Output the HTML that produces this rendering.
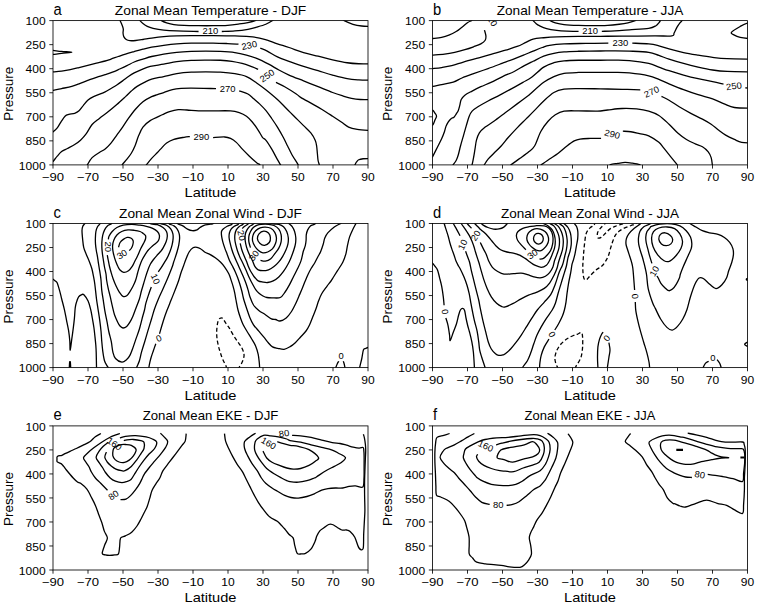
<!DOCTYPE html><html><head><meta charset="utf-8"><style>html,body{margin:0;padding:0;background:#fff;}svg{display:block;}text{font-family:"Liberation Sans",sans-serif;fill:#000;}</style></head><body>
<svg width="758" height="606" viewBox="0 0 758 606">
<rect width="758" height="606" fill="#fff"/>
<clipPath id="cpa"><rect x="53" y="20.6" width="315" height="144.3"/></clipPath>
<g clip-path="url(#cpa)" fill="none" stroke="#000" stroke-width="1.3" stroke-linejoin="round" stroke-linecap="butt">
<path d="M160.81 19.18 C160.93 19.42 160.57 20.03 161.53 20.63 C162.5 21.24 164.56 22.16 166.62 22.81 C168.67 23.46 170.97 24.12 173.88 24.55 C176.78 24.99 179.93 25.23 184.04 25.42 C188.16 25.62 193.72 25.66 198.56 25.71 C203.4 25.76 208.25 25.79 213.09 25.71 C217.93 25.64 223.25 25.57 227.61 25.28 C231.96 24.99 235.84 24.43 239.22 23.97 C242.61 23.51 245.28 23.07 247.94 22.52 C250.6 21.96 253.79 21.19 255.2 20.63 C256.6 20.07 256.17 19.42 256.36 19.18"/>
<path d="M139.45 19.18 C139.55 19.42 139.45 19.9 140.03 20.63 C140.61 21.36 141.73 22.57 142.94 23.53 C144.15 24.5 145.6 25.64 147.29 26.44 C148.99 27.24 150.37 27.72 153.1 28.33 C155.84 28.93 159.77 29.63 163.71 30.07 C167.66 30.5 170.97 30.7 176.78 30.94 C182.59 31.18 194.93 31.42 198.56 31.52"/>
<path d="M221.8 31.52 C223.98 31.42 230.51 31.3 234.87 30.94 C239.22 30.58 244.31 29.97 247.94 29.34 C251.57 28.71 253.67 28.01 256.65 27.17 C259.63 26.32 263.19 25.35 265.81 24.26 C268.42 23.17 271.01 21.48 272.34 20.63 C273.67 19.78 273.55 19.42 273.8 19.18"/>
<path d="M119.7 19.18 C119.78 19.42 119.85 19.9 120.14 20.63 C120.43 21.36 121.03 22.57 121.45 23.53 C121.86 24.5 122.29 25.47 122.61 26.44 C122.92 27.41 123.26 28.25 123.33 29.34 C123.41 30.43 122.97 31.76 123.04 32.97 C123.12 34.18 123.24 35.51 123.77 36.6 C124.3 37.69 125.22 38.83 126.24 39.51 C127.25 40.19 128.29 40.5 129.87 40.67 C131.44 40.84 133.5 40.72 135.68 40.52 C137.85 40.33 140.28 39.92 142.94 39.51 C145.6 39.1 148.19 38.54 151.65 38.06 C155.11 37.57 159.52 36.97 163.71 36.6 C167.9 36.24 172.18 36.05 176.78 35.88 C181.38 35.71 185.25 35.64 191.3 35.59 C197.35 35.54 205.83 35.54 213.09 35.59 C220.35 35.64 228.82 35.71 234.87 35.88 C240.92 36.05 245.28 36.24 249.39 36.6 C253.5 36.97 256.58 37.45 259.55 38.06 C262.53 38.66 264.28 39.27 267.26 40.23 C270.24 41.2 273.8 42.65 277.43 43.86 C281.06 45.07 284.69 46.04 289.04 47.5 C293.4 48.95 298.72 51.13 303.56 52.58 C308.4 54.03 313.25 55 318.09 56.21 C322.93 57.42 327.77 58.75 332.61 59.84 C337.45 60.93 342.77 62.09 347.13 62.74 C351.49 63.4 354.63 63.59 358.75 63.76 C362.86 63.93 369.64 63.76 371.82 63.76"/>
<path d="M342.77 19.18 C343.01 19.42 342.53 19.78 344.22 20.63 C345.92 21.48 350.03 23.37 352.94 24.26 C355.84 25.16 358.5 25.64 361.65 26 C364.8 26.37 370.12 26.37 371.82 26.44"/>
<path d="M50.73 50.25 C51.14 50.28 51.38 50.21 53.19 50.4 C55.01 50.59 58.52 51.1 61.62 51.42 C64.72 51.73 71.78 51.97 71.78 52.29 C71.78 52.6 64.72 52.94 61.62 53.3 C58.52 53.67 55.01 54.25 53.19 54.47 C51.38 54.68 51.14 54.59 50.73 54.61"/>
<path d="M50.73 72.04 C51.14 72.01 51.38 72.06 53.19 71.89 C55.01 71.72 58.76 71.41 61.62 71.02 C64.47 70.63 67.43 70.15 70.33 69.57 C73.23 68.99 76.14 68.24 79.04 67.53 C81.95 66.83 84.85 66.08 87.76 65.36 C90.66 64.63 93.56 63.9 96.47 63.18 C99.37 62.45 102.76 61.68 105.18 61 C107.6 60.32 108.81 59.86 110.99 59.11 C113.17 58.36 115.83 57.35 118.25 56.5 C120.67 55.65 122.85 54.85 125.51 54.03 C128.17 53.21 131.32 52.36 134.22 51.56 C137.13 50.76 140.03 49.96 142.94 49.24 C145.84 48.51 148.19 47.86 151.65 47.2 C155.11 46.55 159.52 45.87 163.71 45.32 C167.9 44.76 172.18 44.23 176.78 43.86 C181.38 43.5 185.25 43.26 191.3 43.14 C197.35 43.02 207.04 43.07 213.09 43.14 C219.14 43.21 223.37 43.4 227.61 43.57 C231.84 43.74 236.68 44.06 238.5 44.16"/>
<path d="M260.28 48.22 C261.44 48.71 264.4 49.67 267.26 51.13 C270.12 52.58 273.8 55.24 277.43 56.93 C281.06 58.63 284.69 59.72 289.04 61.29 C293.4 62.86 298.72 64.8 303.56 66.37 C308.4 67.95 313.25 69.28 318.09 70.73 C322.93 72.18 327.77 73.75 332.61 75.09 C337.45 76.42 342.77 77.92 347.13 78.72 C351.49 79.51 354.63 79.64 358.75 79.88 C362.86 80.12 369.64 80.12 371.82 80.17"/>
<path d="M50.73 90.48 C51.14 90.45 51.38 90.65 53.19 90.33 C55.01 90.02 58.52 89.24 61.62 88.59 C64.72 87.94 68.88 87.21 71.78 86.41 C74.69 85.61 76.38 84.79 79.04 83.8 C81.71 82.81 84.85 81.55 87.76 80.46 C90.66 79.37 93.56 78.23 96.47 77.26 C99.37 76.3 102.52 75.5 105.18 74.65 C107.84 73.8 110.02 73.13 112.44 72.18 C114.86 71.24 117.28 70.08 119.7 68.99 C122.12 67.9 124.54 66.81 126.96 65.65 C129.38 64.49 131.56 63.11 134.22 62.02 C136.89 60.93 140.03 60.03 142.94 59.11 C145.84 58.19 148.19 57.35 151.65 56.5 C155.11 55.65 159.52 54.73 163.71 54.03 C167.9 53.33 172.18 52.72 176.78 52.29 C181.38 51.85 186.46 51.61 191.3 51.42 C196.14 51.22 200.98 51.13 205.83 51.13 C210.67 51.13 215.51 51.17 220.35 51.42 C225.19 51.66 230.51 51.97 234.87 52.58 C239.22 53.18 242.85 54.08 246.49 55.05 C250.12 56.01 252.95 56.86 256.65 58.39 C260.35 59.91 265.01 62.26 268.71 64.19 C272.42 66.13 275.49 68.19 278.88 70 C282.27 71.82 284.93 73.27 289.04 75.09 C293.16 76.9 298.72 78.96 303.56 80.89 C308.4 82.83 313.25 84.77 318.09 86.7 C322.93 88.64 328.49 90.98 332.61 92.51 C336.72 94.04 339.63 94.92 342.77 95.89 C345.92 96.87 348.58 97.75 351.49 98.36 C354.39 98.96 356.81 99.33 360.2 99.52 C363.59 99.72 369.88 99.52 371.82 99.52"/>
<path d="M50.73 132.92 C51.14 132.73 52.11 132.61 53.19 131.76 C54.28 130.91 55.98 129.46 57.26 127.84 C58.54 126.22 59.56 124.01 60.89 122.03 C62.22 120.05 63.92 117.21 65.25 115.93 C66.58 114.65 67.3 114.77 68.88 114.33 C70.45 113.9 72.99 113.9 74.69 113.32 C76.38 112.74 77.59 112.18 79.04 110.85 C80.5 109.52 81.95 107.1 83.4 105.33 C84.85 103.56 86.06 101.7 87.76 100.25 C89.45 98.8 90.66 98.03 93.56 96.62 C96.47 95.21 102.28 93.15 105.18 91.79 C108.09 90.42 109.05 89.58 110.99 88.45 C112.93 87.31 114.86 86.22 116.8 84.96 C118.73 83.7 120.67 82.3 122.61 80.89 C124.54 79.49 126.48 77.87 128.42 76.54 C130.35 75.21 132.05 74.07 134.22 72.91 C136.4 71.75 138.82 70.66 141.49 69.57 C144.15 68.48 146.49 67.27 150.2 66.37 C153.9 65.48 159.28 64.97 163.71 64.19 C168.14 63.42 172.18 62.36 176.78 61.73 C181.38 61.1 186.46 60.69 191.3 60.42 C196.14 60.15 200.98 60.15 205.83 60.13 C210.67 60.1 215.99 60.08 220.35 60.27 C224.7 60.47 228.33 60.76 231.96 61.29 C235.59 61.82 238.98 62.62 242.13 63.47 C245.28 64.32 248.18 65.4 250.84 66.37 C253.5 67.34 256.89 68.79 258.1 69.28"/>
<path d="M275.97 82.35 C277.43 83.07 281.3 84.77 284.69 86.7 C288.07 88.64 293.64 92.19 296.3 93.96 C298.97 95.74 298 95.69 300.66 97.34 C303.32 99 308.65 101.82 312.28 103.88 C315.91 105.94 319.05 107.63 322.44 109.69 C325.83 111.74 329.46 114.16 332.61 116.22 C335.75 118.28 338.66 120.21 341.32 122.03 C343.98 123.84 345.92 125.9 348.58 127.11 C351.24 128.32 353.42 128.69 357.29 129.29 C361.17 129.9 369.39 130.5 371.82 130.74"/>
<path d="M51.45 162.69 C51.74 162.45 52.23 162.33 53.19 161.24 C54.16 160.15 55.86 157.78 57.26 156.16 C58.66 154.53 59.92 152.79 61.62 151.51 C63.31 150.23 65.25 149.62 67.43 148.46 C69.6 147.3 72.51 145.92 74.69 144.54 C76.86 143.16 78.56 142 80.5 140.18 C82.43 138.37 84.37 136.26 86.3 133.65 C88.24 131.03 89.93 127.04 92.11 124.5 C94.29 121.96 96.71 120.5 99.37 118.4 C102.04 116.29 105.18 114.16 108.09 111.86 C110.99 109.57 113.89 107.15 116.8 104.6 C119.7 102.06 123.09 98.87 125.51 96.62 C127.93 94.36 129.38 92.76 131.32 91.06 C133.26 89.36 134.95 87.86 137.13 86.41 C139.31 84.96 141.97 83.56 144.39 82.35 C146.81 81.14 148.43 80.12 151.65 79.15 C154.87 78.18 159.52 77.46 163.71 76.54 C167.9 75.62 172.18 74.36 176.78 73.63 C181.38 72.91 186.46 72.47 191.3 72.18 C196.14 71.89 200.98 71.89 205.83 71.89 C210.67 71.89 215.51 71.89 220.35 72.18 C225.19 72.47 230.51 72.91 234.87 73.63 C239.22 74.36 242.85 74.99 246.49 76.54 C250.12 78.09 253.43 80.72 256.65 82.93 C259.87 85.13 262.35 86.99 265.81 89.75 C269.27 92.52 274.04 96.44 277.43 99.52 C280.81 102.6 283.23 105.33 286.14 108.23 C289.04 111.14 291.95 114.04 294.85 116.95 C297.76 119.85 300.9 123 303.56 125.66 C306.23 128.32 308.89 130.5 310.83 132.92 C312.76 135.34 314.21 138 315.18 140.18 C316.15 142.36 316.27 143.81 316.63 145.99 C317 148.17 317.12 150.83 317.36 153.25 C317.6 155.67 317.77 158.62 318.09 160.51 C318.4 162.4 319.01 163.49 319.25 164.58 C319.49 165.67 319.49 166.63 319.54 167.05"/>
<path d="M86.59 167.05 C86.74 166.63 86.55 166.15 87.47 164.58 C88.39 163 90.13 159.62 92.11 157.61 C94.1 155.6 97.19 153.98 99.37 152.52 C101.55 151.07 103.25 150.47 105.18 148.89 C107.12 147.32 109.05 145.39 110.99 143.09 C112.93 140.79 114.86 137.76 116.8 135.1 C118.73 132.44 120.67 129.9 122.61 127.11 C124.54 124.33 126.24 121.42 128.42 118.4 C130.59 115.37 133.26 111.74 135.68 108.96 C138.1 106.18 140.28 103.76 142.94 101.7 C145.6 99.64 149.23 97.79 151.65 96.62 C154.07 95.45 155.45 95.37 157.46 94.69 C159.47 94.01 161.22 93.36 163.71 92.51 C166.21 91.66 169.52 90.28 172.43 89.61 C175.33 88.93 177.99 88.69 181.14 88.45 C184.28 88.2 185.5 88.13 191.3 88.16 C197.11 88.18 211.88 88.52 215.99 88.59"/>
<path d="M239.22 90.77 C240.68 91.3 245.52 92.63 247.94 93.96 C250.36 95.3 251.81 97.14 253.75 98.8 C255.68 100.45 257.54 101.94 259.55 103.88 C261.56 105.81 263.8 107.99 265.81 110.41 C267.82 112.83 269.68 115.62 271.62 118.4 C273.55 121.18 275.49 123.97 277.43 127.11 C279.36 130.26 281.54 134.13 283.23 137.28 C284.93 140.42 286.14 143.09 287.59 145.99 C289.04 148.89 290.2 151.61 291.95 154.7 C293.69 157.8 296.88 162.52 298.05 164.58 C299.21 166.63 298.77 166.63 298.92 167.05"/>
<path d="M121.45 167.05 C121.59 166.63 121.4 165.91 122.32 164.58 C123.24 163.25 125.46 160.95 126.96 159.06 C128.46 157.17 129.99 155.43 131.32 153.25 C132.65 151.07 133.74 148.89 134.95 145.99 C136.16 143.09 137.25 138.97 138.58 135.83 C139.91 132.68 141 129.65 142.94 127.11 C144.87 124.57 146.98 122.63 150.2 120.58 C153.42 118.52 159.04 116.27 162.26 114.77 C165.48 113.27 166.86 112.42 169.52 111.57 C172.18 110.73 175.33 109.95 178.23 109.69 C181.14 109.42 183.56 109.78 186.95 109.98 C190.34 110.17 194.21 110.7 198.56 110.85 C202.92 110.99 207.76 110.85 213.09 110.85 C218.41 110.85 226.16 110.56 230.51 110.85 C234.87 111.14 236.56 111.7 239.22 112.59 C241.89 113.49 244.31 114.65 246.49 116.22 C248.66 117.79 250.36 119.73 252.29 122.03 C254.23 124.33 256.41 127.48 258.1 130.02 C259.8 132.56 261.17 135.58 262.46 137.28 C263.74 138.97 264.28 138.25 265.81 140.18 C267.33 142.12 269.92 146.11 271.62 148.89 C273.31 151.68 274.52 154.27 275.97 156.88 C277.43 159.5 279.46 162.88 280.33 164.58 C281.2 166.27 281.06 166.63 281.2 167.05"/>
<path d="M144.68 167.05 C144.99 166.63 145.41 166.03 146.57 164.58 C147.73 163.13 149.83 160.34 151.65 158.33 C153.47 156.32 155.93 154.1 157.46 152.52 C158.99 150.95 159.28 150.47 160.81 148.89 C162.33 147.32 164.44 144.66 166.62 143.09 C168.8 141.51 170.97 140.42 173.88 139.46 C176.78 138.49 181.38 137.76 184.04 137.28 C186.71 136.79 188.88 136.67 189.85 136.55"/>
<path d="M213.09 137.57 C215.02 137.47 221.8 136.84 224.7 136.99 C227.61 137.13 228.58 137.54 230.51 138.44 C232.45 139.33 234.38 140.62 236.32 142.36 C238.26 144.1 239.95 146.6 242.13 148.89 C244.31 151.19 246.97 153.86 249.39 156.16 C251.81 158.45 254.96 161.29 256.65 162.69 C258.34 164.09 258.78 163.85 259.55 164.58 C260.33 165.3 261.01 166.63 261.3 167.05"/>
<path d="M354.1 167.05 C354.27 166.63 354.7 165.42 355.12 164.58 C355.53 163.73 355.96 162.76 356.57 161.96 C357.17 161.17 357.66 160.32 358.75 159.79 C359.83 159.25 360.92 158.99 363.1 158.77 C365.28 158.55 370.36 158.53 371.82 158.48"/>
<text stroke="none" x="202.52" y="33.98" font-size="9" textLength="15.75" lengthAdjust="spacingAndGlyphs" transform="rotate(0 210.4 31.1)">210</text>
<text stroke="none" x="241.42" y="48.48" font-size="9" textLength="15.75" lengthAdjust="spacingAndGlyphs" transform="rotate(-12 249.3 45.6)">230</text>
<text stroke="none" x="259.42" y="78.68" font-size="9" textLength="15.75" lengthAdjust="spacingAndGlyphs" transform="rotate(-35 267.3 75.8)">250</text>
<text stroke="none" x="219.72" y="91.78" font-size="9" textLength="15.75" lengthAdjust="spacingAndGlyphs" transform="rotate(0 227.6 88.9)">270</text>
<text stroke="none" x="193.52" y="140.18" font-size="9" textLength="15.75" lengthAdjust="spacingAndGlyphs" transform="rotate(0 201.4 137.3)">290</text>
</g>
<rect x="53" y="20.6" width="315" height="144.3" fill="none" stroke="#000" stroke-width="0.84"/>
<path d="M53 164.9V168.58M88 164.9V168.58M123 164.9V168.58M158 164.9V168.58M193 164.9V168.58M228 164.9V168.58M263 164.9V168.58M298 164.9V168.58M333 164.9V168.58M368 164.9V168.58M53 20.6H49.32M53 44.65H49.32M53 68.7H49.32M53 92.75H49.32M53 116.8H49.32M53 140.85H49.32M53 164.9H49.32" stroke="#000" stroke-width="0.84" fill="none"/>
<clipPath id="cpb"><rect x="432.5" y="20.6" width="315" height="144.3"/></clipPath>
<g clip-path="url(#cpb)" fill="none" stroke="#000" stroke-width="1.3" stroke-linejoin="round" stroke-linecap="butt">
<path d="M430.73 38.64 C431.09 38.61 431.09 38.71 432.9 38.49 C434.72 38.27 438.95 37.89 441.62 37.33 C444.28 36.77 446.46 36.12 448.88 35.15 C451.3 34.18 453.96 32.85 456.14 31.52 C458.32 30.19 460.01 28.67 461.95 27.17 C463.88 25.66 466.18 23.61 467.76 22.52 C469.33 21.43 470.61 21.19 471.39 20.63 C472.16 20.07 472.23 19.42 472.4 19.18"/>
<path d="M484.46 30.07 C484.7 31.04 485.79 34.18 485.91 35.88 C486.03 37.57 486.03 38.9 485.18 40.23 C484.33 41.57 482.76 42.78 480.83 43.86 C478.89 44.95 476.23 45.8 473.56 46.77 C470.9 47.74 468 48.75 464.85 49.67 C461.71 50.59 458.07 51.56 454.69 52.29 C451.3 53.01 448.15 53.57 444.52 54.03 C440.89 54.49 435.2 54.85 432.9 55.05 C430.61 55.24 431.09 55.17 430.73 55.19"/>
<path d="M531.65 19.18 C531.89 19.42 532.38 19.9 533.1 20.63 C533.83 21.36 534.96 22.69 536.01 23.53 C537.05 24.38 537.59 24.87 539.36 25.71 C541.12 26.56 543.71 27.84 546.62 28.62 C549.52 29.39 553.39 29.95 556.78 30.36 C560.17 30.77 563.32 30.92 566.95 31.09 C570.58 31.26 576.63 31.33 578.56 31.38"/>
<path d="M601.8 31.38 C603.98 31.28 610.27 31.06 614.87 30.8 C619.47 30.53 623.75 30.19 629.39 29.78 C635.03 29.37 644.28 29 648.71 28.33 C653.14 27.65 654.28 26.63 655.97 25.71 C657.67 24.79 658.15 23.66 658.88 22.81 C659.6 21.96 660.02 21.24 660.33 20.63 C660.64 20.03 660.69 19.42 660.77 19.18"/>
<path d="M549.52 19.18 C549.64 19.42 549.28 20.03 550.25 20.63 C551.22 21.24 553.03 22.16 555.33 22.81 C557.63 23.46 560.17 24.12 564.04 24.55 C567.92 24.99 573.72 25.23 578.56 25.42 C583.4 25.62 588.25 25.71 593.09 25.71 C597.93 25.71 603.25 25.66 607.61 25.42 C611.96 25.18 615.84 24.7 619.22 24.26 C622.61 23.83 625.28 23.41 627.94 22.81 C630.6 22.2 633.84 21.24 635.2 20.63 C636.55 20.03 635.92 19.42 636.07 19.18"/>
<path d="M430.73 68.7 C431.09 68.67 431.09 68.74 432.9 68.55 C434.72 68.36 438.47 68.02 441.62 67.53 C444.76 67.05 448.15 66.57 451.78 65.65 C455.41 64.73 459.28 63.23 463.4 62.02 C467.51 60.81 471.87 59.64 476.47 58.39 C481.07 57.13 486.15 55.84 490.99 54.47 C495.83 53.09 501.16 51.44 505.51 50.11 C509.87 48.78 513.74 47.76 517.13 46.48 C520.52 45.2 523.18 43.65 525.84 42.41 C528.5 41.18 530.12 39.85 533.1 39.07 C536.08 38.3 539.77 38.13 543.71 37.77 C547.66 37.4 550.97 37.11 556.78 36.89 C562.59 36.68 571.3 36.56 578.56 36.46 C585.83 36.36 593.09 36.36 600.35 36.31 C607.61 36.27 613.1 36.24 622.13 36.17 C631.16 36.1 646.22 35.93 654.52 35.88 C662.82 35.83 668.68 36.36 671.95 35.88 C675.21 35.39 673.28 34.43 674.13 32.97 C674.97 31.52 676.06 28.86 677.03 27.17 C678 25.47 679.09 23.9 679.93 22.81 C680.78 21.72 681.63 21.24 682.11 20.63 C682.6 20.03 682.72 19.42 682.84 19.18"/>
<path d="M751.82 22.52 C751.21 22.57 750.12 22.16 748.18 22.81 C746.25 23.46 742.98 24.87 740.2 26.44 C737.41 28.01 732.45 30.8 731.49 32.25 C730.52 33.7 732.94 34.3 734.39 35.15 C735.84 36 737.9 36.77 740.2 37.33 C742.5 37.89 746.25 38.3 748.18 38.49 C750.12 38.69 751.21 38.49 751.82 38.49"/>
<path d="M430.73 86.56 C431.09 86.53 431.09 86.75 432.9 86.41 C434.72 86.07 438.23 85.25 441.62 84.52 C445.01 83.8 449.85 83.15 453.23 82.06 C456.62 80.97 458.56 79.39 461.95 77.99 C465.34 76.59 469.21 75.21 473.56 73.63 C477.92 72.06 483.25 70.29 488.09 68.55 C492.93 66.81 498.25 64.8 502.61 63.18 C506.96 61.56 510.59 60.23 514.22 58.82 C517.85 57.42 521.24 56.04 524.39 54.76 C527.54 53.47 530.12 52.34 533.1 51.13 C536.08 49.92 539.52 48.46 542.26 47.5 C545 46.53 545.89 45.92 549.52 45.32 C553.15 44.71 557.99 44.18 564.04 43.86 C570.09 43.55 578.44 43.55 585.83 43.43 C593.21 43.31 604.58 43.19 608.33 43.14"/>
<path d="M632.29 43.14 C635.03 43.26 644.52 43.5 648.71 43.86 C652.9 44.23 654.04 44.47 657.43 45.32 C660.81 46.16 664.69 47.74 669.04 48.95 C673.4 50.16 678.72 51.54 683.56 52.58 C688.4 53.62 693.25 54.39 698.09 55.19 C702.93 55.99 707.77 56.79 712.61 57.37 C717.45 57.95 720.59 58.39 727.13 58.68 C733.66 58.97 747.7 59.04 751.82 59.11"/>
<path d="M432.18 157.61 C432.3 157.37 432.06 157.85 432.9 156.16 C433.75 154.46 435.81 150.35 437.26 147.44 C438.71 144.54 440.41 141.39 441.62 138.73 C442.83 136.07 443.8 133.53 444.52 131.47 C445.25 129.41 445.37 127.96 445.97 126.39 C446.58 124.81 447.3 123.31 448.15 122.03 C449 120.75 450.09 119.49 451.06 118.69 C452.02 117.89 453.11 118.01 453.96 117.24 C454.81 116.46 455.41 115.18 456.14 114.04 C456.86 112.91 457.71 111.86 458.32 110.41 C458.92 108.96 459.28 107.15 459.77 105.33 C460.25 103.51 460.37 101.22 461.22 99.52 C462.07 97.83 463.04 96.58 464.85 95.17 C466.67 93.75 469.45 92.47 472.11 91.06 C474.77 89.65 477.68 88.16 480.83 86.7 C483.97 85.25 487.36 84.04 490.99 82.35 C494.62 80.65 498.73 78.35 502.61 76.54 C506.48 74.72 510.59 73.27 514.22 71.46 C517.85 69.64 521.24 67.34 524.39 65.65 C527.54 63.95 529.88 62.86 533.1 61.29 C536.32 59.72 540.25 57.54 543.71 56.21 C547.18 54.88 550.49 54.03 553.88 53.3 C557.27 52.58 559.93 52.19 564.04 51.85 C568.16 51.51 572.51 51.42 578.56 51.27 C584.61 51.13 594.3 51.05 600.35 50.98 C606.4 50.91 610.03 50.81 614.87 50.83 C619.71 50.86 623.75 50.88 629.39 51.13 C635.03 51.37 643.8 51.56 648.71 52.29 C653.63 53.01 655.49 54.34 658.88 55.48 C662.27 56.62 664.93 57.78 669.04 59.11 C673.16 60.44 678.72 62.14 683.56 63.47 C688.4 64.8 693.25 66.01 698.09 67.1 C702.93 68.19 707.77 69.28 712.61 70 C717.45 70.73 720.59 71.14 727.13 71.46 C733.66 71.77 747.7 71.82 751.82 71.89"/>
<path d="M452.51 166.32 C452.63 166.03 452.63 165.55 453.23 164.58 C453.84 163.61 455.29 162.16 456.14 160.51 C456.99 158.87 457.59 157.12 458.32 154.7 C459.04 152.28 459.65 149.14 460.5 145.99 C461.34 142.84 462.43 139.21 463.4 135.83 C464.37 132.44 465.34 128.93 466.3 125.66 C467.27 122.39 468.24 118.64 469.21 116.22 C470.18 113.8 470.66 112.71 472.11 111.14 C473.56 109.57 475.26 108.48 477.92 106.78 C480.58 105.09 484.46 102.91 488.09 100.97 C491.72 99.04 495.83 97.18 499.7 95.17 C503.58 93.15 507.45 91.02 511.32 88.88 C515.19 86.74 519.55 84.28 522.94 82.35 C526.33 80.41 528.19 79.81 531.65 77.26 C535.11 74.72 540.01 69.52 543.71 67.1 C547.42 64.68 550.49 63.78 553.88 62.74 C557.27 61.7 559.93 61.27 564.04 60.85 C568.16 60.44 572.51 60.37 578.56 60.27 C584.61 60.18 594.3 60.3 600.35 60.27 C606.4 60.25 610.03 60.08 614.87 60.13 C619.71 60.18 623.75 60.01 629.39 60.56 C635.03 61.12 643.8 62.38 648.71 63.47 C653.63 64.56 655.49 65.89 658.88 67.1 C662.27 68.31 664.93 69.4 669.04 70.73 C673.16 72.06 678.72 73.75 683.56 75.09 C688.4 76.42 693.25 77.63 698.09 78.72 C702.93 79.81 708.37 80.72 712.61 81.62 C716.84 82.52 721.68 83.68 723.5 84.09"/>
<path d="M745.28 87.86 L751.82 88.16"/>
<path d="M471.39 166.32 C471.51 166.03 471.75 166.03 472.11 164.58 C472.48 163.13 473.08 160.22 473.56 157.61 C474.05 154.99 474.53 151.8 475.02 148.89 C475.5 145.99 475.74 142.84 476.47 140.18 C477.19 137.52 477.92 135.1 479.37 132.92 C480.83 130.74 482.76 129.05 485.18 127.11 C487.6 125.18 490.51 123.72 493.89 121.3 C497.28 118.88 501.64 115.5 505.51 112.59 C509.38 109.69 513.26 106.78 517.13 103.88 C521 100.97 526.57 96.82 528.75 95.17 C530.92 93.51 527.7 96.1 530.2 93.96 C532.69 91.83 539.77 85.25 543.71 82.35 C547.66 79.44 550.49 78.04 553.88 76.54 C557.27 75.04 559.93 74.02 564.04 73.34 C568.16 72.67 572.51 72.64 578.56 72.47 C584.61 72.3 594.3 72.35 600.35 72.33 C606.4 72.3 610.03 72.23 614.87 72.33 C619.71 72.42 623.75 72.33 629.39 72.91 C635.03 73.49 643.8 74.72 648.71 75.81 C653.63 76.9 655.49 78.11 658.88 79.44 C662.27 80.77 664.93 82.1 669.04 83.8 C673.16 85.49 678.72 87.79 683.56 89.61 C688.4 91.42 693.25 93.16 698.09 94.69 C702.93 96.22 708.25 97.26 712.61 98.8 C716.96 100.33 720.59 102.43 724.22 103.88 C727.85 105.33 729.79 106.78 734.39 107.51 C738.99 108.23 748.91 108.11 751.82 108.23"/>
<path d="M483.73 166.32 C483.85 166.03 483.73 165.79 484.46 164.58 C485.18 163.37 486.51 160.95 488.09 159.06 C489.66 157.17 491.72 155.43 493.89 153.25 C496.07 151.07 498.73 148.65 501.16 145.99 C503.58 143.33 505.75 140.3 508.42 137.28 C511.08 134.25 514.22 130.86 517.13 127.84 C520.03 124.81 522.94 122.03 525.84 119.13 C528.75 116.22 531.58 113.44 534.55 110.41 C537.53 107.39 540.49 103.96 543.71 100.97 C546.93 97.99 550.49 94.48 553.88 92.51 C557.27 90.54 559.93 89.83 564.04 89.17 C568.16 88.52 572.51 88.64 578.56 88.59 C584.61 88.54 593.09 88.76 600.35 88.88 C607.61 89 615.47 89.15 622.13 89.32 C628.78 89.49 637.26 89.8 640.28 89.9"/>
<path d="M661.49 96.33 C662.75 96.98 666.09 98.5 669.04 100.25 C672 101.99 675.58 104.6 679.21 106.78 C682.84 108.96 686.95 111.26 690.83 113.32 C694.7 115.37 699.05 117.31 702.44 119.13 C705.83 120.94 708.49 122.39 711.16 124.21 C713.82 126.02 716 128.2 718.42 130.02 C720.84 131.83 723.01 133.53 725.68 135.1 C728.34 136.67 731.73 138.25 734.39 139.46 C737.05 140.67 738.75 141.75 741.65 142.36 C744.55 142.96 750.12 142.96 751.82 143.09"/>
<path d="M510.59 166.32 C510.72 166.03 509.75 165.91 511.32 164.58 C512.89 163.25 517.13 160.46 520.03 158.33 C522.94 156.2 526.33 153.86 528.75 151.8 C531.17 149.74 532.54 149.38 534.55 145.99 C536.56 142.6 538.56 135.58 540.81 131.47 C543.06 127.35 545.65 124.09 548.07 121.3 C550.49 118.52 552.67 116.46 555.33 114.77 C557.99 113.07 560.17 111.79 564.04 111.14 C567.92 110.49 573 110.85 578.56 110.85 C584.13 110.85 592.6 111.28 597.44 111.14 C602.28 110.99 603.49 110.41 607.61 109.98 C611.72 109.54 617.29 108.69 622.13 108.52 C626.97 108.36 632.22 108.52 636.65 108.96 C641.08 109.4 645.01 110.05 648.71 111.14 C652.42 112.23 655.49 113.32 658.88 115.5 C662.27 117.67 665.9 121.3 669.04 124.21 C672.19 127.11 674.85 130.38 677.76 132.92 C680.66 135.46 683.56 137.64 686.47 139.46 C689.37 141.27 692.52 142.6 695.18 143.81 C697.84 145.02 700.26 145.39 702.44 146.72 C704.62 148.05 706.8 149.98 708.25 151.8 C709.7 153.61 710.48 155.48 711.16 157.61 C711.83 159.74 712.07 163.13 712.32 164.58 C712.56 166.03 712.56 166.03 712.61 166.32"/>
<path d="M540.81 166.32 C540.93 166.03 540.08 165.79 541.53 164.58 C542.99 163.37 546.74 160.95 549.52 159.06 C552.3 157.17 555.33 155.43 558.23 153.25 C561.14 151.07 564.28 148.05 566.95 145.99 C569.61 143.93 572.03 142.07 574.21 140.91 C576.39 139.75 577.35 139.43 580.02 139.02 C582.68 138.61 586.67 138.56 590.18 138.44 C593.69 138.32 599.26 138.32 601.07 138.29"/>
<path d="M622.85 131.18 C624.19 131.28 628.06 131.35 630.84 131.76 C633.62 132.17 636.58 132.97 639.55 133.65 C642.53 134.32 645.49 134.37 648.71 135.83 C651.93 137.28 656.46 140.42 658.88 142.36 C661.3 144.3 661.54 145.39 663.23 147.44 C664.93 149.5 666.74 151.85 669.04 154.7 C671.34 157.56 675.58 162.64 677.03 164.58 C678.48 166.51 677.63 166.03 677.76 166.32"/>
<path d="M609.79 166.32 C609.91 166.03 609.18 165.06 610.51 164.58 C611.84 164.09 615.35 163.78 617.77 163.42 C620.19 163.05 622.61 162.45 625.03 162.4 C627.45 162.35 629.87 162.76 632.29 163.13 C634.71 163.49 638.22 164.05 639.55 164.58 C640.89 165.11 640.16 166.03 640.28 166.32"/>
<path d="M430.73 110.41 C431.09 110.41 432.18 109.93 432.9 110.41 C433.63 110.9 434.48 112.35 435.08 113.32 C435.69 114.28 436.53 115.13 436.53 116.22 C436.53 117.31 435.69 118.4 435.08 119.85 C434.48 121.3 433.63 124.04 432.9 124.93 C432.18 125.83 431.09 125.18 430.73 125.22"/>
<text stroke="none" x="482.72" y="21.98" font-size="9" textLength="15.75" lengthAdjust="spacingAndGlyphs" transform="rotate(55 490.6 19.1)">210</text>
<text stroke="none" x="582.22" y="33.68" font-size="9" textLength="15.75" lengthAdjust="spacingAndGlyphs" transform="rotate(0 590.1 30.8)">210</text>
<text stroke="none" x="612.42" y="45.68" font-size="9" textLength="15.75" lengthAdjust="spacingAndGlyphs" transform="rotate(0 620.3 42.8)">230</text>
<text stroke="none" x="726.12" y="89.28" font-size="9" textLength="15.75" lengthAdjust="spacingAndGlyphs" transform="rotate(-8 734 86.4)">250</text>
<text stroke="none" x="643.72" y="94.98" font-size="9" textLength="15.75" lengthAdjust="spacingAndGlyphs" transform="rotate(-25 651.6 92.1)">270</text>
<text stroke="none" x="604.32" y="137.28" font-size="9" textLength="15.75" lengthAdjust="spacingAndGlyphs" transform="rotate(15 612.2 134.4)">290</text>
</g>
<rect x="432.5" y="20.6" width="315" height="144.3" fill="none" stroke="#000" stroke-width="0.84"/>
<path d="M432.5 164.9V168.58M467.5 164.9V168.58M502.5 164.9V168.58M537.5 164.9V168.58M572.5 164.9V168.58M607.5 164.9V168.58M642.5 164.9V168.58M677.5 164.9V168.58M712.5 164.9V168.58M747.5 164.9V168.58M432.5 20.6H428.82M432.5 44.65H428.82M432.5 68.7H428.82M432.5 92.75H428.82M432.5 116.8H428.82M432.5 140.85H428.82M432.5 164.9H428.82" stroke="#000" stroke-width="0.84" fill="none"/>
<clipPath id="cpc"><rect x="53" y="223.5" width="315" height="144.1"/></clipPath>
<g clip-path="url(#cpc)" fill="none" stroke="#000" stroke-width="1.3" stroke-linejoin="round" stroke-linecap="butt">
<path d="M50 279 C50.45 279.02 51.88 278.82 52.7 279.1 C53.52 279.38 54.18 280.13 54.9 280.7 C55.62 281.27 56.22 280.85 57 282.5 C57.78 284.15 58.82 287.85 59.6 290.6 C60.38 293.35 60.9 295.83 61.7 299 C62.5 302.17 63.6 306.08 64.4 309.6 C65.2 313.12 65.8 316.58 66.5 320.1 C67.2 323.62 68.05 327.22 68.6 330.7 C69.15 334.18 69.53 337.77 69.8 341 C70.07 344.23 69.88 350.33 70.2 350.1 C70.52 349.87 71.18 343.3 71.7 339.6 C72.22 335.9 72.85 331.43 73.3 327.9 C73.75 324.37 74.08 321.72 74.4 318.4 C74.72 315.08 74.88 310.6 75.2 308 C75.52 305.4 75.73 304.65 76.3 302.8 C76.87 300.95 77.68 298.27 78.6 296.9 C79.52 295.53 80.92 294.95 81.8 294.6 C82.68 294.25 82.85 293.72 83.9 294.8 C84.95 295.88 86.97 298.63 88.1 301.1 C89.23 303.57 90 306.78 90.7 309.6 C91.4 312.42 91.77 315.02 92.3 318 C92.83 320.98 93.45 324.33 93.9 327.5 C94.35 330.67 94.68 334.08 95 337 C95.32 339.92 95.6 342.47 95.8 345 C96 347.53 96.08 348.48 96.2 352.2 C96.32 355.92 96.43 364.33 96.5 367.3 C96.57 370.27 96.58 369.55 96.6 370"/>
<path d="M69.2 370 C69.27 368.75 69.47 363.83 69.6 362.5 C69.73 361.17 69.87 362 70 362 C70.13 362 70.27 361.17 70.4 362.5 C70.53 363.83 70.73 368.75 70.8 370"/>
<path d="M85.5 221 C85.4 221.4 85.35 222.52 84.9 223.4 C84.45 224.28 83.28 225.1 82.8 226.3 C82.32 227.5 82.03 228.48 82 230.6 C81.97 232.72 82.32 236.2 82.6 239 C82.88 241.8 83.13 244.93 83.7 247.4 C84.27 249.87 85.08 251.5 86 253.8 C86.92 256.1 88.23 258.75 89.2 261.2 C90.17 263.65 91.1 266.05 91.8 268.5 C92.5 270.95 92.9 273.32 93.4 275.9 C93.9 278.48 94.28 280.15 94.8 284 C95.32 287.85 95.95 294.73 96.5 299 C97.05 303.27 97.57 306.08 98.1 309.6 C98.63 313.12 99.22 316.53 99.7 320.1 C100.18 323.67 100.65 327.4 101 331 C101.35 334.6 101.48 338.17 101.8 341.7 C102.12 345.23 102.45 349.03 102.9 352.2 C103.35 355.37 103.8 358.42 104.5 360.7 C105.2 362.98 106.48 364.8 107.1 365.9 C107.72 367 107.88 366.78 108.2 367.3 C108.52 367.82 108.87 368.72 109 369"/>
<path d="M101.5 221 C101.3 221.42 100.97 222.55 100.3 223.5 C99.63 224.45 98.23 225.37 97.5 226.7 C96.77 228.03 96.25 229.65 95.9 231.5 C95.55 233.35 95.47 235.7 95.4 237.8 C95.33 239.9 95.35 241.98 95.5 244.1 C95.65 246.22 95.97 248.38 96.3 250.5 C96.63 252.62 97.17 254.83 97.5 256.8 C97.83 258.77 98.02 260.43 98.3 262.3 C98.58 264.17 98.88 266.05 99.2 268 C99.52 269.95 99.9 272 100.2 274 C100.5 276 100.73 277.23 101 280 C101.27 282.77 101.4 287.08 101.8 290.6 C102.2 294.12 102.87 297.58 103.4 301.1 C103.93 304.62 104.38 308.18 105 311.7 C105.62 315.22 106.45 318.82 107.1 322.2 C107.75 325.58 108.2 328.75 108.9 332 C109.6 335.25 110.63 338.33 111.3 341.7 C111.97 345.07 112.2 349.4 112.9 352.2 C113.6 355 114 356.83 115.5 358.5 C117 360.17 120.03 362.02 121.9 362.2 C123.77 362.38 125.37 360.73 126.7 359.6 C128.03 358.47 128.93 357.17 129.9 355.4 C130.87 353.63 131.53 351.63 132.5 349 C133.47 346.37 134.55 342.93 135.7 339.6 C136.85 336.27 138.22 332.93 139.4 329 C140.58 325.07 141.95 319.17 142.8 316 C143.65 312.83 143.98 312.13 144.5 310 C145.02 307.87 145.17 305.92 145.9 303.2 C146.63 300.48 148 296.4 148.9 293.7 C149.8 291 150.9 288.12 151.3 287"/>
<path d="M158.3 271.8 C158.82 271.07 160.37 268.98 161.4 267.4 C162.43 265.82 163.52 263.93 164.5 262.3 C165.48 260.67 166.37 259.43 167.3 257.6 C168.23 255.77 169.3 253.42 170.1 251.3 C170.9 249.18 171.6 247.02 172.1 244.9 C172.6 242.78 172.97 240.45 173.1 238.6 C173.23 236.75 173.27 235.38 172.9 233.8 C172.53 232.22 171.9 230.48 170.9 229.1 C169.9 227.72 168.48 226.37 166.9 225.5 C165.32 224.63 162.88 224.48 161.4 223.9 C159.92 223.32 158.57 222.32 158 222"/>
<path d="M112 221 C111.9 221.45 112.17 222.88 111.4 223.7 C110.63 224.52 108.53 224.87 107.4 225.9 C106.27 226.93 105.38 228.32 104.6 229.9 C103.82 231.48 103.15 233.42 102.7 235.4 C102.25 237.38 102.03 239.68 101.9 241.8 C101.77 243.92 101.8 246 101.9 248.1 C102 250.2 102.23 252.28 102.5 254.4 C102.77 256.52 103.17 258.7 103.5 260.8 C103.83 262.9 104.08 264.8 104.5 267 C104.92 269.2 105.65 271.83 106 274 C106.35 276.17 106.23 277.6 106.6 280 C106.97 282.4 107.58 285.58 108.2 288.4 C108.82 291.22 109.6 293.9 110.3 296.9 C111 299.9 111.7 303.42 112.4 306.4 C113.1 309.38 113.62 312.17 114.5 314.8 C115.38 317.43 116.78 320.33 117.7 322.2 C118.62 324.07 119.12 325.03 120 326 C120.88 326.97 121.88 327.93 123 328 C124.12 328.07 125.55 327.37 126.7 326.4 C127.85 325.43 128.85 323.95 129.9 322.2 C130.95 320.45 131.95 318.37 133 315.9 C134.05 313.43 135.13 310.22 136.2 307.4 C137.27 304.58 138.53 301.73 139.4 299 C140.27 296.27 140.72 293.5 141.4 291 C142.08 288.5 142.8 286.35 143.5 284 C144.2 281.65 144.85 279.27 145.6 276.9 C146.35 274.53 147.22 271.9 148 269.8 C148.78 267.7 149.38 266.02 150.3 264.3 C151.22 262.58 152.3 261.08 153.5 259.5 C154.7 257.92 156.25 256.22 157.5 254.8 C158.75 253.38 160.08 252.12 161 251 C161.92 249.88 162.15 249.63 163 248.1 C163.85 246.57 165.38 243.78 166.1 241.8 C166.82 239.82 167.23 237.92 167.3 236.2 C167.37 234.48 167.22 232.95 166.5 231.5 C165.78 230.05 164.52 228.63 163 227.5 C161.48 226.37 159.38 225.3 157.4 224.7 C155.42 224.1 152.67 224.35 151.1 223.9 C149.53 223.45 148.52 222.32 148 222"/>
<path d="M107.3 255.2 C107.45 256 107.85 258.2 108.2 260 C108.55 261.8 108.93 264 109.4 266 C109.87 268 110.37 269.83 111 272 C111.63 274.17 112.33 276.62 113.2 279 C114.07 281.38 115.18 284.12 116.2 286.3 C117.22 288.48 118.17 290.42 119.3 292.1 C120.43 293.78 121.77 295.78 123 296.4 C124.23 297.02 125.55 296.6 126.7 295.8 C127.85 295 128.85 293.18 129.9 291.6 C130.95 290.02 132.03 288.23 133 286.3 C133.97 284.37 134.93 282.22 135.7 280 C136.47 277.78 136.97 275.25 137.6 273 C138.23 270.75 138.8 268.58 139.5 266.5 C140.2 264.42 140.92 262.38 141.8 260.5 C142.68 258.62 143.78 256.87 144.8 255.2 C145.82 253.53 146.72 251.95 147.9 250.5 C149.08 249.05 150.58 247.7 151.9 246.5 C153.22 245.3 154.68 244.35 155.8 243.3 C156.92 242.25 158 241.52 158.6 240.2 C159.2 238.88 159.6 236.85 159.4 235.4 C159.2 233.95 158.52 232.68 157.4 231.5 C156.28 230.32 154.55 229.17 152.7 228.3 C150.85 227.43 148.42 226.82 146.3 226.3 C144.18 225.78 142.38 225.52 140 225.2 C137.62 224.88 134.78 224.42 132 224.4 C129.22 224.38 125.82 224.58 123.3 225.1 C120.78 225.62 118.75 226.43 116.9 227.5 C115.05 228.57 113.52 230.05 112.2 231.5 C110.88 232.95 109.63 234.88 109 236.2 C108.37 237.52 108.5 238.87 108.4 239.4"/>
<path d="M128 229.9 C130.1 229.7 132.3 230.03 134.3 230.3 C136.3 230.57 138.52 230.98 140 231.5 C141.48 232.02 142.28 232.72 143.2 233.4 C144.12 234.08 145.12 234.67 145.5 235.6 C145.88 236.53 145.82 237.72 145.5 239 C145.18 240.28 144.38 241.72 143.6 243.3 C142.82 244.88 141.82 246.38 140.8 248.5 C139.78 250.62 138.52 253.83 137.5 256 C136.48 258.17 135.58 259.77 134.7 261.5 C133.82 263.23 133.23 264.87 132.2 266.4 C131.17 267.93 129.92 269.72 128.5 270.7 C127.08 271.68 125.12 272.42 123.7 272.3 C122.28 272.18 121 271.05 120 270 C119 268.95 118.35 267.28 117.7 266 C117.05 264.72 116.63 263.7 116.1 262.3 C115.57 260.9 115.02 259.43 114.5 257.6 C113.98 255.77 113.32 253.28 113 251.3 C112.68 249.32 112.47 247.55 112.6 245.7 C112.73 243.85 113.08 241.98 113.8 240.2 C114.52 238.42 115.58 236.45 116.9 235 C118.22 233.55 119.85 232.35 121.7 231.5 C123.55 230.65 125.9 230.1 128 229.9Z"/>
<path d="M129.2 250.5 C129.53 250.17 130.6 249.43 131.2 248.5 C131.8 247.57 132.47 246.15 132.8 244.9 C133.13 243.65 133.47 242.12 133.2 241 C132.93 239.88 132.2 238.8 131.2 238.2 C130.2 237.6 128.52 237.2 127.2 237.4 C125.88 237.6 124.48 238.55 123.3 239.4 C122.12 240.25 120.9 241.18 120.1 242.5 C119.3 243.82 118.77 246.5 118.5 247.3"/>
<path d="M168 222 C168.22 222.32 168.3 223.25 169.3 223.9 C170.3 224.55 172.68 225.03 174 225.9 C175.32 226.77 176.33 227.78 177.2 229.1 C178.07 230.42 178.8 232.22 179.2 233.8 C179.6 235.38 179.67 236.75 179.6 238.6 C179.53 240.45 179.2 242.78 178.8 244.9 C178.4 247.02 177.8 249.18 177.2 251.3 C176.6 253.42 175.8 255.77 175.2 257.6 C174.6 259.43 174.05 260.9 173.6 262.3 C173.15 263.7 173.13 264.22 172.5 266 C171.87 267.78 170.73 270.67 169.8 273 C168.87 275.33 168.08 277.25 166.9 280 C165.72 282.75 164.12 286.33 162.7 289.5 C161.28 292.67 159.77 295.75 158.4 299 C157.03 302.25 155.65 305.67 154.5 309 C153.35 312.33 152.62 315.32 151.5 319 C150.38 322.68 148.93 327.32 147.8 331.1 C146.67 334.88 145.75 338.18 144.7 341.7 C143.65 345.22 142.38 349.03 141.5 352.2 C140.62 355.37 140.2 358.18 139.4 360.7 C138.6 363.22 137.27 365.75 136.7 367.3 C136.13 368.85 136.12 369.55 136 370"/>
<path d="M175 221 C175.5 221.48 176.7 223.08 178 223.9 C179.3 224.72 181.22 225.03 182.8 225.9 C184.38 226.77 185.92 228.3 187.5 229.1 C189.08 229.9 190.72 230.57 192.3 230.7 C193.88 230.83 195.72 230.43 197 229.9 C198.28 229.37 198.83 228.27 200 227.5 C201.17 226.73 202.5 225.82 204 225.3 C205.5 224.78 207.5 224.68 209 224.4 C210.5 224.12 211.83 224.17 213 223.6 C214.17 223.03 215.5 221.43 216 221"/>
<path d="M148.7 370 C148.73 369.55 148.68 368.68 148.9 367.3 C149.12 365.92 149.63 363.33 150 361.7 C150.37 360.07 150.57 359.25 151.1 357.5 C151.63 355.75 152.42 353.48 153.2 351.2 C153.98 348.92 155.37 345.03 155.8 343.8"/>
<path d="M159.5 333.8 C160.12 331.7 161.97 325.07 163.2 321.2 C164.43 317.33 165.58 314.12 166.9 310.6 C168.22 307.08 169.7 303.62 171.1 300.1 C172.5 296.58 174.07 292.68 175.3 289.5 C176.53 286.32 177.55 283.78 178.5 281 C179.45 278.22 180.17 275.3 181 272.8 C181.83 270.3 182.68 268.27 183.5 266 C184.32 263.73 184.97 261.53 185.9 259.2 C186.83 256.87 187.92 253.92 189.1 252 C190.28 250.08 191.68 248.48 193 247.7 C194.32 246.92 195.75 247.13 197 247.3 C198.25 247.47 199.17 247.88 200.5 248.7 C201.83 249.52 203.45 251.25 205 252.2 C206.55 253.15 208.08 253.47 209.8 254.4 C211.52 255.33 213.53 256.53 215.3 257.8 C217.07 259.07 218.87 260.5 220.4 262 C221.93 263.5 223.1 264.83 224.5 266.8 C225.9 268.77 227.7 271.58 228.8 273.8 C229.9 276.02 230.38 278 231.1 280.1 C231.82 282.2 232.5 284.28 233.1 286.4 C233.7 288.52 234.22 290.53 234.7 292.8 C235.18 295.07 235.45 297.13 236 300 C236.55 302.87 237.25 307 238 310 C238.75 313 239.63 315.53 240.5 318 C241.37 320.47 242.05 322.47 243.2 324.8 C244.35 327.13 246.03 329.72 247.4 332 C248.77 334.28 250.03 336.18 251.4 338.5 C252.77 340.82 254.47 343.27 255.6 345.9 C256.73 348.53 257.58 351.48 258.2 354.3 C258.82 357.12 259.07 360.63 259.3 362.8 C259.53 364.97 259.53 366.1 259.6 367.3 C259.67 368.5 259.68 369.55 259.7 370"/>
<path d="M232.5 221 C232.4 221.53 232.78 223.32 231.9 224.2 C231.02 225.08 228.65 225.48 227.2 226.3 C225.75 227.12 224.15 228.23 223.2 229.1 C222.25 229.97 221.77 230.32 221.5 231.5 C221.23 232.68 221.38 234.48 221.6 236.2 C221.82 237.92 222.27 239.82 222.8 241.8 C223.33 243.78 224.07 246 224.8 248.1 C225.53 250.2 226.42 252.33 227.2 254.4 C227.98 256.47 228.65 258.6 229.5 260.5 C230.35 262.4 231.37 263.98 232.3 265.8 C233.23 267.62 234.22 269.45 235.1 271.4 C235.98 273.35 236.82 275.4 237.6 277.5 C238.38 279.6 239.1 281.75 239.8 284 C240.5 286.25 241.18 288.58 241.8 291 C242.42 293.42 242.72 295.67 243.5 298.5 C244.28 301.33 245.45 304.85 246.5 308 C247.55 311.15 248.63 314.6 249.8 317.4 C250.97 320.2 252 322.52 253.5 324.8 C255 327.08 257.03 329 258.8 331.1 C260.57 333.2 262.52 335.47 264.1 337.4 C265.68 339.33 266.9 341.12 268.3 342.7 C269.7 344.28 270.92 345.97 272.5 346.9 C274.08 347.83 275.87 347.9 277.8 348.3 C279.73 348.7 282.03 349.58 284.1 349.3 C286.17 349.02 288.33 347.7 290.2 346.6 C292.07 345.5 293.57 344.3 295.3 342.7 C297.03 341.1 298.82 338.95 300.6 337 C302.38 335.05 304.52 333 306 331 C307.48 329 308.38 327.33 309.5 325 C310.62 322.67 311.63 319.67 312.7 317 C313.77 314.33 314.93 311.65 315.9 309 C316.87 306.35 317.53 303.65 318.5 301.1 C319.47 298.55 320.3 296.17 321.7 293.7 C323.1 291.23 325.35 288.42 326.9 286.3 C328.45 284.18 329.9 282.55 331 281 C332.1 279.45 332.42 278.72 333.5 277 C334.58 275.28 335.95 273.17 337.5 270.7 C339.05 268.23 341.4 265.02 342.8 262.2 C344.2 259.38 345.12 256.62 345.9 253.8 C346.68 250.98 346.88 248.12 347.5 245.3 C348.12 242.48 348.72 239.53 349.6 236.9 C350.48 234.27 351.73 231.75 352.8 229.5 C353.87 227.25 355.3 224.82 356 223.4 C356.7 221.98 356.83 221.4 357 221"/>
<path d="M239 221 C238.88 221.53 239.08 223.32 238.3 224.2 C237.52 225.08 235.5 225.48 234.3 226.3 C233.1 227.12 231.92 227.98 231.1 229.1 C230.28 230.22 229.73 231.55 229.4 233 C229.07 234.45 228.97 236.08 229.1 237.8 C229.23 239.52 229.73 241.32 230.2 243.3 C230.67 245.28 231.22 247.53 231.9 249.7 C232.58 251.87 233.37 254 234.3 256.3 C235.23 258.6 236.45 261.12 237.5 263.5 C238.55 265.88 239.55 268.23 240.6 270.6 C241.65 272.97 242.87 275.47 243.8 277.7 C244.73 279.93 245.47 281.88 246.2 284 C246.93 286.12 247.57 288.23 248.2 290.4 C248.83 292.57 249.12 294.57 250 297 C250.88 299.43 252.03 302.77 253.5 305 C254.97 307.23 256.87 308.82 258.8 310.4 C260.73 311.98 263 313.1 265.1 314.5 C267.2 315.9 269.63 317.97 271.4 318.8 C273.17 319.63 274.27 319.13 275.7 319.5 C277.13 319.87 278.25 321.25 280 321 C281.75 320.75 284.28 319.58 286.2 318 C288.12 316.42 289.95 313.83 291.5 311.5 C293.05 309.17 294.25 306.58 295.5 304 C296.75 301.42 297.92 298.5 299 296 C300.08 293.5 300.97 291.5 302 289 C303.03 286.5 304.2 283.42 305.2 281 C306.2 278.58 307.02 276.58 308 274.5 C308.98 272.42 309.97 270.47 311.1 268.5 C312.23 266.53 313.65 264.7 314.8 262.7 C315.95 260.7 317.03 258.33 318 256.5 C318.97 254.67 319.73 253.73 320.6 251.7 C321.47 249.67 322.5 246.6 323.2 244.3 C323.9 242 324 239.83 324.8 237.9 C325.6 235.97 326.42 234.53 328 232.7 C329.58 230.87 332.18 228.45 334.3 226.9 C336.42 225.35 339.42 224.38 340.7 223.4 C341.98 222.42 341.78 221.4 342 221"/>
<path d="M244 221 C243.83 221.53 243.83 223.25 243 224.2 C242.17 225.15 240.12 225.75 239 226.7 C237.88 227.65 236.98 228.58 236.3 229.9 C235.62 231.22 235.13 232.88 234.9 234.6 C234.67 236.32 234.72 238.35 234.9 240.2 C235.08 242.05 235.55 243.85 236 245.7 C236.45 247.55 236.97 249.43 237.6 251.3 C238.23 253.17 238.9 254.87 239.8 256.9 C240.7 258.93 241.93 261.22 243 263.5 C244.07 265.78 245.15 268.23 246.2 270.6 C247.25 272.97 248.25 275.47 249.3 277.7 C250.35 279.93 251.43 282.02 252.5 284 C253.57 285.98 254.57 288.02 255.7 289.6 C256.83 291.18 258.08 292.43 259.3 293.5 C260.52 294.57 261.73 295.33 263 296 C264.27 296.67 265.4 297.2 266.9 297.5 C268.4 297.8 269.77 297.8 272 297.8 C274.23 297.8 278.12 298.47 280.3 297.5 C282.48 296.53 283.65 293.98 285.1 292 C286.55 290.02 287.68 287.98 289 285.6 C290.32 283.22 291.67 280.33 293 277.7 C294.33 275.07 295.68 272.57 297 269.8 C298.32 267.03 299.85 264.18 300.9 261.1 C301.95 258.02 302.57 253.87 303.3 251.3 C304.03 248.73 304.83 247.55 305.3 245.7 C305.77 243.85 305.93 242.05 306.1 240.2 C306.27 238.35 306.03 236.32 306.3 234.6 C306.57 232.88 307.02 231.35 307.7 229.9 C308.38 228.45 309.18 226.9 310.4 225.9 C311.62 224.9 313.9 224.72 315 223.9 C316.1 223.08 316.67 221.48 317 221"/>
<path d="M250 221 C249.63 221.55 248.7 223.42 247.8 224.3 C246.9 225.18 245.53 225.6 244.6 226.3 C243.67 227 242.6 228.13 242.2 228.5"/>
<path d="M240.2 243.3 C240.47 244.37 241.13 247.58 241.8 249.7 C242.47 251.82 243.4 254.03 244.2 256 C245 257.97 245.93 259.83 246.6 261.5 C247.27 263.17 247.55 264.42 248.2 266 C248.85 267.58 249.7 269.5 250.5 271 C251.3 272.5 252.25 273.88 253 275 C253.75 276.12 254.13 276.72 255 277.7 C255.87 278.68 256.88 280.17 258.2 280.9 C259.52 281.63 261.32 281.83 262.9 282.1 C264.48 282.37 265.98 282.7 267.7 282.5 C269.42 282.3 271.35 281.83 273.2 280.9 C275.05 279.97 277.08 278.48 278.8 276.9 C280.52 275.32 282.05 273.38 283.5 271.4 C284.95 269.42 286.32 267.12 287.5 265 C288.68 262.88 289.55 261.2 290.6 258.7 C291.65 256.2 293 252.43 293.8 250 C294.6 247.57 295.07 246.13 295.4 244.1 C295.73 242.07 295.93 239.9 295.8 237.8 C295.67 235.7 295.2 233.35 294.6 231.5 C294 229.65 293.13 228.03 292.2 226.7 C291.27 225.37 289.7 224.45 289 223.5 C288.3 222.55 288.17 221.42 288 221"/>
<path d="M256 222 C255.42 222.45 253.62 223.92 252.5 224.7 C251.38 225.48 250.22 225.83 249.3 226.7 C248.38 227.57 247.65 228.72 247 229.9 C246.35 231.08 245.73 232.35 245.4 233.8 C245.07 235.25 244.93 236.88 245 238.6 C245.07 240.32 245.4 242.25 245.8 244.1 C246.2 245.95 246.75 247.85 247.4 249.7 C248.05 251.55 248.85 253.35 249.7 255.2 C250.55 257.05 251.62 258.9 252.5 260.8 C253.38 262.7 254.05 265.1 255 266.6 C255.95 268.1 256.88 269.12 258.2 269.8 C259.52 270.48 261.18 270.7 262.9 270.7 C264.62 270.7 266.65 270.48 268.5 269.8 C270.35 269.12 272.28 267.92 274 266.6 C275.72 265.28 277.35 263.62 278.8 261.9 C280.25 260.18 281.52 258.28 282.7 256.3 C283.88 254.32 285.03 252.03 285.9 250 C286.77 247.97 287.5 246.13 287.9 244.1 C288.3 242.07 288.5 239.9 288.3 237.8 C288.1 235.7 287.5 233.35 286.7 231.5 C285.9 229.65 284.82 227.9 283.5 226.7 C282.18 225.5 280.52 224.77 278.8 224.3 C277.08 223.83 275 224.28 273.2 223.9 C271.4 223.52 268.87 222.32 268 222"/>
<path d="M250.5 247.7 C250.23 246.72 249.17 243.72 248.9 241.8 C248.63 239.88 248.63 237.92 248.9 236.2 C249.17 234.48 249.77 232.95 250.5 231.5 C251.23 230.05 252.17 228.57 253.3 227.5 C254.43 226.43 255.97 225.63 257.3 225.1 C258.63 224.57 259.43 224.43 261.3 224.3 C263.17 224.17 266.38 224.1 268.5 224.3 C270.62 224.5 272.28 224.7 274 225.5 C275.72 226.3 277.62 227.58 278.8 229.1 C279.98 230.62 280.72 232.48 281.1 234.6 C281.48 236.72 281.48 239.55 281.1 241.8 C280.72 244.05 279.85 246.13 278.8 248.1 C277.75 250.07 276.13 251.83 274.8 253.6 C273.47 255.37 272.38 257.45 270.8 258.7 C269.22 259.95 267.02 260.82 265.3 261.1 C263.58 261.38 261.3 260.52 260.5 260.4"/>
<path d="M265.3 227.1 C267.07 227.18 269.22 227.43 270.8 228.3 C272.38 229.17 273.87 230.72 274.8 232.3 C275.73 233.88 276.27 235.97 276.4 237.8 C276.53 239.63 276.27 241.45 275.6 243.3 C274.93 245.15 273.72 247.45 272.4 248.9 C271.08 250.35 269.28 251.35 267.7 252 C266.12 252.65 264.43 253.05 262.9 252.8 C261.37 252.55 259.82 251.55 258.5 250.5 C257.18 249.45 255.98 248.08 255 246.5 C254.02 244.92 252.93 242.85 252.6 241 C252.27 239.15 252.48 237.12 253 235.4 C253.52 233.68 254.5 231.97 255.7 230.7 C256.9 229.43 258.6 228.4 260.2 227.8 C261.8 227.2 263.53 227.02 265.3 227.1Z"/>
<path d="M263.7 231.1 C265.28 230.97 267.38 231.88 268.5 233 C269.62 234.12 270.27 236.22 270.4 237.8 C270.53 239.38 270.28 241.25 269.3 242.5 C268.32 243.75 266.08 245.17 264.5 245.3 C262.92 245.43 260.98 244.42 259.8 243.3 C258.62 242.18 257.53 240.18 257.4 238.6 C257.27 237.02 257.95 235.05 259 233.8 C260.05 232.55 262.12 231.23 263.7 231.1Z"/>
<path d="M226.8 369 C226.67 368.48 226.67 367.47 226 365.9 C225.33 364.33 223.77 361.88 222.8 359.6 C221.83 357.32 220.93 354.48 220.2 352.2 C219.47 349.92 218.93 348.18 218.4 345.9 C217.87 343.62 217.28 340.97 217 338.5 C216.72 336.03 216.62 333.57 216.7 331.1 C216.78 328.63 217.15 325.63 217.5 323.7 C217.85 321.77 218.3 320.42 218.8 319.5 C219.3 318.58 219.83 318.38 220.5 318.2 C221.17 318.02 221.88 317.52 222.8 318.4 C223.72 319.28 224.93 321.92 226 323.5 C227.07 325.08 227.97 325.93 229.2 327.9 C230.43 329.87 231.98 333 233.4 335.3 C234.82 337.6 236.28 339.58 237.7 341.7 C239.12 343.82 240.85 345.9 241.9 348 C242.95 350.1 243.73 352.55 244 354.3 C244.27 356.05 243.93 356.92 243.5 358.5 C243.07 360.08 242.12 362.33 241.4 363.8 C240.68 365.27 239.67 366.43 239.2 367.3 C238.73 368.17 238.7 368.72 238.6 369" stroke-dasharray="4 2.5"/>
<path d="M335.6 369 C335.65 368.72 335.63 368.13 335.9 367.3 C336.17 366.47 336.72 365.02 337.2 364 C337.68 362.98 338.53 361.67 338.8 361.2"/>
<path d="M343.3 361.2 C343.45 361.67 343.93 362.98 344.2 364 C344.47 365.02 344.73 366.47 344.9 367.3 C345.07 368.13 345.15 368.72 345.2 369"/>
<path d="M359.5 369 C359.53 368.72 359.32 369.05 359.7 367.3 C360.08 365.55 361.18 361.37 361.8 358.5 C362.42 355.63 362.78 351.77 363.4 350.1 C364.02 348.43 364.72 348.93 365.5 348.5 C366.28 348.07 367.35 347.7 368.1 347.5 C368.85 347.3 369.68 347.33 370 347.3"/>
<text stroke="none" x="116.85" y="257.48" font-size="9" textLength="10.5" lengthAdjust="spacingAndGlyphs" transform="rotate(-32 122.1 254.6)">30</text>
<text stroke="none" x="102.85" y="249.58" font-size="9" textLength="10.5" lengthAdjust="spacingAndGlyphs" transform="rotate(90 108.1 246.7)">20</text>
<text stroke="none" x="149.95" y="281.88" font-size="9" textLength="10.5" lengthAdjust="spacingAndGlyphs" transform="rotate(66 155.2 279)">10</text>
<text stroke="none" x="156.37" y="341.48" font-size="9" textLength="5.25" lengthAdjust="spacingAndGlyphs" transform="rotate(-25 159 338.6)">0</text>
<text stroke="none" x="236.05" y="238.38" font-size="9" textLength="10.5" lengthAdjust="spacingAndGlyphs" transform="rotate(76 241.3 235.5)">20</text>
<text stroke="none" x="248.85" y="258.58" font-size="9" textLength="10.5" lengthAdjust="spacingAndGlyphs" transform="rotate(-54 254.1 255.7)">30</text>
<text stroke="none" x="338.47" y="359.48" font-size="9" textLength="5.25" lengthAdjust="spacingAndGlyphs" transform="rotate(0 341.1 356.6)">0</text>
</g>
<rect x="53" y="223.5" width="315" height="144.1" fill="none" stroke="#000" stroke-width="0.84"/>
<path d="M53 367.6V371.28M88 367.6V371.28M123 367.6V371.28M158 367.6V371.28M193 367.6V371.28M228 367.6V371.28M263 367.6V371.28M298 367.6V371.28M333 367.6V371.28M368 367.6V371.28M53 223.5H49.32M53 247.52H49.32M53 271.53H49.32M53 295.55H49.32M53 319.57H49.32M53 343.58H49.32M53 367.6H49.32" stroke="#000" stroke-width="0.84" fill="none"/>
<clipPath id="cpd"><rect x="432.5" y="223.5" width="315" height="144.1"/></clipPath>
<g clip-path="url(#cpd)" fill="none" stroke="#000" stroke-width="1.3" stroke-linejoin="round" stroke-linecap="butt">
<path d="M430 262 C430.4 262.18 431.58 262.4 432.4 263.1 C433.22 263.8 434.05 265.07 434.9 266.2 C435.75 267.33 436.72 267.97 437.5 269.9 C438.28 271.83 438.9 275.07 439.6 277.8 C440.3 280.53 441.08 283.13 441.7 286.3 C442.32 289.47 442.9 293.65 443.3 296.8 C443.7 299.95 443.97 303.8 444.1 305.2"/>
<path d="M445.8 318 C445.92 318.33 446.12 318.7 446.5 320 C446.88 321.3 447.58 323.25 448.1 325.8 C448.62 328.35 449.25 332.83 449.6 335.3 C449.95 337.77 449.58 341.12 450.2 340.6 C450.82 340.08 452.25 335.02 453.3 332.2 C454.35 329.38 455.62 326.52 456.5 323.7 C457.38 320.88 457.95 317.58 458.6 315.3 C459.25 313.02 459.7 311.15 460.4 310 C461.1 308.85 462.1 308.32 462.8 308.4 C463.5 308.48 464.07 308.9 464.6 310.5 C465.13 312.1 465.47 315.42 466 318 C466.53 320.58 467.22 323.67 467.8 326 C468.38 328.33 468.83 329.38 469.5 332 C470.17 334.62 471.15 338.33 471.8 341.7 C472.45 345.07 472.97 347.93 473.4 352.2 C473.83 356.47 474.22 364.33 474.4 367.3 C474.58 370.27 474.48 369.55 474.5 370"/>
<path d="M444 221 C444.03 221.42 443.83 222.02 444.2 223.5 C444.57 224.98 445.53 227.78 446.2 229.9 C446.87 232.02 447.6 234.1 448.2 236.2 C448.8 238.3 449.2 240.38 449.8 242.5 C450.4 244.62 451.08 246.78 451.8 248.9 C452.52 251.02 453.4 253.18 454.1 255.2 C454.8 257.22 455.27 259.2 456 261 C456.73 262.8 457.85 264.78 458.5 266 C459.15 267.22 459 266.5 459.9 268.3 C460.8 270.1 462.72 273.98 463.9 276.8 C465.08 279.62 466.12 282.38 467 285.2 C467.88 288.02 468.58 290.88 469.2 293.7 C469.82 296.52 470.18 299.3 470.7 302.1 C471.22 304.9 471.68 307.42 472.3 310.5 C472.92 313.58 473.6 317.17 474.4 320.6 C475.2 324.03 476.38 327.58 477.1 331.1 C477.82 334.62 478.27 338.53 478.7 341.7 C479.13 344.87 479.18 347.47 479.7 350.1 C480.22 352.73 480.92 354.63 481.8 357.5 C482.68 360.37 484.38 365.22 485 367.3 C485.62 369.38 485.42 369.55 485.5 370"/>
<path d="M522 370 C522.12 369.55 521.8 368.85 522.7 367.3 C523.6 365.75 526.08 363.03 527.4 360.7 C528.72 358.37 529.53 356.12 530.6 353.3 C531.67 350.48 532.75 346.8 533.8 343.8 C534.85 340.8 535.67 338.12 536.9 335.3 C538.13 332.48 539.62 329.72 541.2 326.9 C542.78 324.08 544.57 321.22 546.4 318.4 C548.23 315.58 550.7 312.53 552.2 310 C553.7 307.47 554.43 305.92 555.4 303.2 C556.37 300.48 557.03 297.05 558 293.7 C558.97 290.35 560.13 286.62 561.2 283.1 C562.27 279.58 563.53 275.45 564.4 272.6 C565.27 269.75 565.8 268.5 566.4 266 C567 263.5 567.4 260.05 568 257.6 C568.6 255.15 569.47 253.42 570 251.3 C570.53 249.18 571 247.02 571.2 244.9 C571.4 242.78 571.33 240.58 571.2 238.6 C571.07 236.62 570.93 234.85 570.4 233 C569.87 231.15 569.07 229.08 568 227.5 C566.93 225.92 565 224.58 564 223.5 C563 222.42 562.33 221.42 562 221"/>
<path d="M452.5 221 C452.63 221.42 452.63 222.15 453.3 223.5 C453.97 224.85 455.37 227.05 456.5 229.1 C457.63 231.15 459.5 234.68 460.1 235.8"/>
<path d="M465.6 251.3 C465.93 252.22 466.95 255.02 467.6 256.8 C468.25 258.58 468.88 259.73 469.5 262 C470.12 264.27 470.65 267.58 471.3 270.4 C471.95 273.22 472.62 275.73 473.4 278.9 C474.18 282.07 475.12 285.88 476 289.4 C476.88 292.92 477.98 296.83 478.7 300 C479.42 303.17 479.6 304.97 480.3 308.4 C481 311.83 482.03 316.82 482.9 320.6 C483.77 324.38 484.62 327.58 485.5 331.1 C486.38 334.62 487.23 338.72 488.2 341.7 C489.17 344.68 490.08 346.98 491.3 349 C492.52 351.02 494.27 352.73 495.5 353.8 C496.73 354.87 497.47 355.22 498.7 355.4 C499.93 355.58 501.8 355.17 502.9 354.9 C504 354.63 504.02 354.78 505.3 353.8 C506.58 352.82 508.85 350.85 510.6 349 C512.35 347.15 514.05 344.98 515.8 342.7 C517.55 340.42 519.33 337.93 521.1 335.3 C522.87 332.67 524.63 329.72 526.4 326.9 C528.17 324.08 529.88 321.22 531.7 318.4 C533.52 315.58 535.2 312.72 537.3 310 C539.4 307.28 542.07 304.65 544.3 302.1 C546.53 299.55 548.93 297.52 550.7 294.7 C552.47 291.88 553.5 288.88 554.9 285.2 C556.3 281.52 557.9 275.8 559.1 272.6 C560.3 269.4 561.4 267.72 562.1 266 C562.8 264.28 562.85 263.97 563.3 262.3 C563.75 260.63 564.28 258.1 564.8 256 C565.32 253.9 566 251.95 566.4 249.7 C566.8 247.45 567.13 244.62 567.2 242.5 C567.27 240.38 567.07 238.83 566.8 237 C566.53 235.17 566.18 233.22 565.6 231.5 C565.02 229.78 564.35 228.03 563.3 226.7 C562.25 225.37 560.35 224.45 559.3 223.5 C558.25 222.55 557.38 221.42 557 221"/>
<path d="M461 221 C461.05 221.42 460.6 222.15 461.3 223.5 C462 224.85 463.88 227.12 465.2 229.1 C466.52 231.08 468.08 233.42 469.2 235.4 C470.32 237.38 471.12 239.15 471.9 241 C472.68 242.85 473.3 244.67 473.9 246.5 C474.5 248.33 474.9 250.02 475.5 252 C476.1 253.98 476.93 256.65 477.5 258.4 C478.07 260.15 478.35 260.67 478.9 262.5 C479.45 264.33 479.97 266.5 480.8 269.4 C481.63 272.3 482.85 276.73 483.9 279.9 C484.95 283.07 485.87 285.58 487.1 288.4 C488.33 291.22 489.72 294.33 491.3 296.8 C492.88 299.27 494.83 301.57 496.6 303.2 C498.37 304.83 500.45 305.98 501.9 306.6 C503.35 307.22 503.5 307.38 505.3 306.9 C507.1 306.42 510.07 305.03 512.7 303.7 C515.33 302.37 518.47 300.32 521.1 298.9 C523.73 297.48 525.87 296.33 528.5 295.2 C531.13 294.07 534.27 293.23 536.9 292.1 C539.53 290.97 542.18 289.9 544.3 288.4 C546.42 286.9 548.02 285.22 549.6 283.1 C551.18 280.98 552.57 278.17 553.8 275.7 C555.03 273.23 556.22 270.53 557 268.3 C557.78 266.07 557.92 264.35 558.5 262.3 C559.08 260.25 559.83 258.1 560.5 256 C561.17 253.9 562.03 251.95 562.5 249.7 C562.97 247.45 563.23 244.62 563.3 242.5 C563.37 240.38 563.23 238.83 562.9 237 C562.57 235.17 562.03 233.22 561.3 231.5 C560.57 229.78 559.63 228.03 558.5 226.7 C557.37 225.37 555.58 224.45 554.5 223.5 C553.42 222.55 552.42 221.42 552 221"/>
<path d="M466 221 C466.2 221.42 466.28 222.28 467.2 223.5 C468.12 224.72 470.78 227.5 471.5 228.3"/>
<path d="M480.3 242.5 C480.82 243.57 482.4 246.92 483.4 248.9 C484.4 250.88 485.42 252.38 486.3 254.4 C487.18 256.42 487.68 258.85 488.7 261 C489.72 263.15 490.9 265.55 492.4 267.3 C493.9 269.05 495.77 270.37 497.7 271.5 C499.63 272.63 501.33 273.75 504 274.1 C506.67 274.45 510.85 273.77 513.7 273.6 C516.55 273.43 518.82 272.92 521.1 273.1 C523.38 273.28 525.28 274.08 527.4 274.7 C529.52 275.32 531.68 276.28 533.8 276.8 C535.92 277.32 538.17 277.9 540.1 277.8 C542.03 277.7 543.82 277.07 545.4 276.2 C546.98 275.33 548.37 274.08 549.6 272.6 C550.83 271.12 551.98 269.27 552.8 267.3 C553.62 265.33 553.82 262.95 554.5 260.8 C555.18 258.65 556.17 256.52 556.9 254.4 C557.63 252.28 558.47 250.2 558.9 248.1 C559.33 246 559.5 243.78 559.5 241.8 C559.5 239.82 559.33 238.05 558.9 236.2 C558.47 234.35 557.75 232.42 556.9 230.7 C556.05 228.98 554.98 227.1 553.8 225.9 C552.62 224.7 550.93 224.32 549.8 223.5 C548.67 222.68 547.47 221.42 547 221"/>
<path d="M474 221 C474.12 221.42 473.92 222.42 474.7 223.5 C475.48 224.58 477.82 226.57 478.7 227.5 C479.58 228.43 479.12 228.3 480 229.1 C480.88 229.9 482.68 231.12 484 232.3 C485.32 233.48 486.58 234.75 487.9 236.2 C489.22 237.65 490.58 239.42 491.9 241 C493.22 242.58 494.35 244.25 495.8 245.7 C497.25 247.15 498.75 248.65 500.6 249.7 C502.45 250.75 504.78 251.42 506.9 252 C509.02 252.58 511.18 252.67 513.3 253.2 C515.42 253.73 517.63 254.33 519.6 255.2 C521.57 256.07 523.37 257.27 525.1 258.4 C526.83 259.53 528.38 260.87 530 262 C531.62 263.13 532.93 264.32 534.8 265.2 C536.67 266.08 539.27 267.3 541.2 267.3 C543.13 267.3 545.05 266.25 546.4 265.2 C547.75 264.15 548.33 262.8 549.3 261 C550.27 259.2 551.33 256.55 552.2 254.4 C553.07 252.25 553.98 250.2 554.5 248.1 C555.02 246 555.3 243.92 555.3 241.8 C555.3 239.68 555.02 237.38 554.5 235.4 C553.98 233.42 553.25 231.48 552.2 229.9 C551.15 228.32 549.65 226.97 548.2 225.9 C546.75 224.83 544.7 224.32 543.5 223.5 C542.3 222.68 541.42 221.42 541 221"/>
<path d="M480 221 C480.25 221.42 480.97 222.82 481.5 223.5 C482.03 224.18 482.13 224.43 483.2 225.1 C484.27 225.77 486.18 226.83 487.9 227.5 C489.62 228.17 491.65 228.87 493.5 229.1 C495.35 229.33 497.28 229.23 499 228.9 C500.72 228.57 502.42 228 503.8 227.1 C505.18 226.2 506.52 224.52 507.3 223.5 C508.08 222.48 508.3 221.42 508.5 221"/>
<path d="M525.9 249.7 C525.12 248.9 522.58 246.48 521.2 244.9 C519.82 243.32 518.4 241.78 517.6 240.2 C516.8 238.62 516.33 236.85 516.4 235.4 C516.47 233.95 516.93 232.68 518 231.5 C519.07 230.32 520.95 229.1 522.8 228.3 C524.65 227.5 527 227.1 529.1 226.7 C531.2 226.3 533.93 226.08 535.4 225.9 C536.87 225.72 536.42 225.6 537.9 225.6 C539.38 225.6 542.45 225.45 544.3 225.9 C546.15 226.35 547.75 227.23 549 228.3 C550.25 229.37 551.13 230.72 551.8 232.3 C552.47 233.88 552.87 235.83 553 237.8 C553.13 239.77 553 241.98 552.6 244.1 C552.2 246.22 551.53 248.65 550.6 250.5 C549.67 252.35 548.18 253.88 547 255.2 C545.82 256.52 544.75 257.73 543.5 258.4 C542.25 259.07 540.17 259.07 539.5 259.2"/>
<path d="M534.8 228.9 C536.6 228.45 538.6 228.67 540.3 229.1 C542 229.53 543.75 230.45 545 231.5 C546.25 232.55 547.2 233.95 547.8 235.4 C548.4 236.85 548.73 238.62 548.6 240.2 C548.47 241.78 547.85 243.45 547 244.9 C546.15 246.35 544.63 247.92 543.5 248.9 C542.37 249.88 541.45 250.62 540.2 250.8 C538.95 250.98 537.37 250.58 536 250 C534.63 249.42 533.17 248.3 532 247.3 C530.83 246.3 529.83 245.22 529 244 C528.17 242.78 527.3 241.42 527 240 C526.7 238.58 526.78 236.87 527.2 235.5 C527.62 234.13 528.23 232.9 529.5 231.8 C530.77 230.7 533 229.35 534.8 228.9Z"/>
<path d="M538.5 233.3 C539.62 233.4 541.1 234.08 541.9 235 C542.7 235.92 543.3 237.55 543.3 238.8 C543.3 240.05 542.7 241.62 541.9 242.5 C541.1 243.38 539.65 244.13 538.5 244.1 C537.35 244.07 535.83 243.23 535 242.3 C534.17 241.37 533.47 239.82 533.5 238.5 C533.53 237.18 534.37 235.27 535.2 234.4 C536.03 233.53 537.38 233.2 538.5 233.3Z"/>
<path d="M574 221 C574.05 221.42 573.85 222.55 574.3 223.5 C574.75 224.45 576.12 225.37 576.7 226.7 C577.28 228.03 577.63 229.52 577.8 231.5 C577.97 233.48 577.92 236.27 577.7 238.6 C577.48 240.93 576.95 242.95 576.5 245.5 C576.05 248.05 575.52 251.48 575 253.9 C574.48 256.32 573.9 258.25 573.4 260 C572.9 261.75 572.45 262.3 572 264.4 C571.55 266.5 571.27 269.48 570.7 272.6 C570.13 275.72 569.22 279.58 568.6 283.1 C567.98 286.62 567.43 290.53 567 293.7 C566.57 296.87 566.43 299.38 566 302.1 C565.57 304.82 565.02 307.63 564.4 310 C563.78 312.37 563.27 314.02 562.3 316.3 C561.33 318.58 559.85 321.42 558.6 323.7 C557.35 325.98 555.43 328.95 554.8 330"/>
<path d="M549 339 C548.22 340.32 545.6 344.17 544.3 346.9 C543 349.63 541.93 352.75 541.2 355.4 C540.47 358.05 540.17 360.82 539.9 362.8 C539.63 364.78 539.67 366.1 539.6 367.3 C539.53 368.5 539.52 369.55 539.5 370"/>
<path d="M595.5 221 C595.25 221.68 594.92 223.95 594 225.1 C593.08 226.25 591.3 226.5 590 227.9 C588.7 229.3 587.1 230.93 586.2 233.5 C585.3 236.07 585 240.33 584.6 243.3 C584.2 246.27 584.03 248.65 583.8 251.3 C583.57 253.95 583.37 256.75 583.2 259.2 C583.03 261.65 582.82 263.55 582.8 266 C582.78 268.45 582.9 271.82 583.1 273.9 C583.3 275.98 583.65 277.53 584 278.5 C584.35 279.47 584.73 279.53 585.2 279.7 C585.67 279.87 586.02 280.12 586.8 279.5 C587.58 278.88 588.32 277.63 589.9 276 C591.48 274.37 594.3 271.37 596.3 269.7 C598.3 268.03 600.32 267.48 601.9 266 C603.48 264.52 604.68 262.6 605.8 260.8 C606.92 259 607.8 257.32 608.6 255.2 C609.4 253.08 609.93 250.33 610.6 248.1 C611.27 245.87 611.82 243.92 612.6 241.8 C613.38 239.68 614.18 237.18 615.3 235.4 C616.42 233.62 617.72 232.35 619.3 231.1 C620.88 229.85 622.82 228.83 624.8 227.9 C626.78 226.97 629.35 226.23 631.2 225.5 C633.05 224.77 634.77 224.25 635.9 223.5 C637.03 222.75 637.65 221.42 638 221" stroke-dasharray="4 2.5"/>
<path d="M606 221 C605.83 221.42 605.95 222.28 605 223.5 C604.05 224.72 601.55 226.72 600.3 228.3 C599.05 229.88 597.9 231.42 597.5 233 C597.1 234.58 597.3 237.07 597.9 237.8 C598.5 238.53 599.92 238.07 601.1 237.4 C602.28 236.73 603.55 235.18 605 233.8 C606.45 232.42 608.08 230.35 609.8 229.1 C611.52 227.85 613.32 227.12 615.3 226.3 C617.28 225.48 620.25 224.67 621.7 224.2 C623.15 223.73 623.12 224.03 624 223.5 C624.88 222.97 626.5 221.42 627 221" stroke-dasharray="4 2.5"/>
<path d="M642 221 C641.78 221.42 641.98 222.28 640.7 223.5 C639.42 224.72 636.28 226.58 634.3 228.3 C632.32 230.02 630.12 232.08 628.8 233.8 C627.48 235.52 626.87 236.88 626.4 238.6 C625.93 240.32 625.8 242.25 626 244.1 C626.2 245.95 627 247.72 627.6 249.7 C628.2 251.68 628.93 253.9 629.6 256 C630.27 258.1 631.07 260.3 631.6 262.3 C632.13 264.3 632.45 265.38 632.8 268 C633.15 270.62 633.4 274.33 633.7 278 C634 281.67 634.45 288 634.6 290"/>
<path d="M635.3 302 C635.38 303.43 635.37 307.42 635.8 310.6 C636.23 313.78 637.1 317.58 637.9 321.1 C638.7 324.62 639.63 328.18 640.6 331.7 C641.57 335.22 642.65 338.68 643.7 342.2 C644.75 345.72 646.02 349.5 646.9 352.8 C647.78 356.1 648.55 359.58 649 362 C649.45 364.42 649.47 365.97 649.6 367.3 C649.73 368.63 649.77 369.55 649.8 370"/>
<path d="M652 221 C651.67 221.48 651.37 222.95 650 223.9 C648.63 224.85 645.48 225.43 643.8 226.7 C642.12 227.97 640.78 229.65 639.9 231.5 C639.02 233.35 638.7 235.7 638.5 237.8 C638.3 239.9 638.4 241.98 638.7 244.1 C639 246.22 639.7 248.38 640.3 250.5 C640.9 252.62 641.72 254.83 642.3 256.8 C642.88 258.77 643.32 260.43 643.8 262.3 C644.28 264.17 644.73 265.88 645.2 268 C645.67 270.12 646.1 271.57 646.6 275 C647.1 278.43 647.23 284.05 648.2 288.6 C649.17 293.15 651.22 299 652.4 302.3 C653.58 305.6 653.93 305.62 655.3 308.4 C656.67 311.18 658.67 315.83 660.6 319 C662.53 322.17 664.95 325.55 666.9 327.4 C668.85 329.25 670.53 330.27 672.3 330.1 C674.07 329.93 675.75 328.25 677.5 326.4 C679.25 324.55 681.22 321.82 682.8 319 C684.38 316.18 685.73 313.17 687 309.5 C688.27 305.83 689.1 301.17 690.4 297 C691.7 292.83 693.35 287.67 694.8 284.5 C696.25 281.33 697.68 279 699.1 278 C700.52 277 701.53 277.45 703.3 278.5 C705.07 279.55 707.58 282.62 709.7 284.3 C711.82 285.98 713.9 288.6 716 288.6 C718.1 288.6 720.55 286.07 722.3 284.3 C724.05 282.53 725.43 280.25 726.5 278 C727.57 275.75 727.82 273.42 728.7 270.8 C729.58 268.18 731.02 264.95 731.8 262.3 C732.58 259.65 733.22 257.18 733.4 254.9 C733.58 252.62 733.52 250.7 732.9 248.6 C732.28 246.5 731.12 244.15 729.7 242.3 C728.28 240.45 726.33 238.82 724.4 237.5 C722.47 236.18 720.55 235.18 718.1 234.4 C715.65 233.62 712.33 233.42 709.7 232.8 C707.07 232.18 704.6 231.67 702.3 230.7 C700 229.73 698.02 228.23 695.9 227 C693.78 225.77 690.92 224.3 689.6 223.3 C688.28 222.3 688.27 221.38 688 221"/>
<path d="M651.9 263.4 C651.47 261.98 649.98 257.32 649.3 254.9 C648.62 252.48 648.32 250.97 647.8 248.9 C647.28 246.83 646.53 244.48 646.2 242.5 C645.87 240.52 645.67 238.83 645.8 237 C645.93 235.17 646.3 233.02 647 231.5 C647.7 229.98 649.27 228.75 650 227.9 C650.73 227.05 649.77 227.03 651.4 226.4 C653.03 225.77 656.47 224.53 659.8 224.1 C663.13 223.67 668.05 223.5 671.4 223.8 C674.75 224.1 677.43 224.75 679.9 225.9 C682.37 227.05 684.43 228.85 686.2 230.7 C687.97 232.55 689.57 234.9 690.5 237 C691.43 239.1 691.68 241.37 691.8 243.3 C691.92 245.23 691.92 246.3 691.2 248.6 C690.48 250.9 688.82 254.12 687.5 257.1 C686.18 260.08 684.48 263.68 683.3 266.5 C682.12 269.32 681.05 272.08 680.4 274 C679.75 275.92 680.1 276.28 679.4 278 C678.7 279.72 677.35 282.45 676.2 284.3 C675.05 286.15 673.73 288.03 672.5 289.1 C671.27 290.17 670.03 290.88 668.8 290.7 C667.57 290.52 666.42 289.23 665.1 288 C663.78 286.77 662.05 284.97 660.9 283.3 C659.75 281.63 658.85 279.22 658.2 278 C657.55 276.78 657.2 276.33 657 276"/>
<path d="M667.2 227 C669.83 227.1 672.48 227.47 674.6 228.6 C676.72 229.73 678.58 231.7 679.9 233.8 C681.22 235.9 682.33 238.73 682.5 241.2 C682.67 243.67 682.03 246.13 680.9 248.6 C679.77 251.07 677.63 253.88 675.7 256 C673.77 258.12 671.23 260.52 669.3 261.3 C667.37 262.08 666.03 261.77 664.1 260.7 C662.17 259.63 659.55 257.27 657.7 254.9 C655.85 252.53 654.02 249.3 653 246.5 C651.98 243.7 651.52 240.57 651.6 238.1 C651.68 235.63 652.3 233.38 653.5 231.7 C654.7 230.02 656.52 228.78 658.8 228 C661.08 227.22 664.57 226.9 667.2 227Z"/>
<path d="M665.1 232.8 C666.77 232.97 669.13 234.27 670.4 235.4 C671.67 236.53 672.62 238.18 672.7 239.6 C672.78 241.02 671.98 242.88 670.9 243.9 C669.82 244.92 667.78 245.7 666.2 245.7 C664.62 245.7 662.63 245 661.4 243.9 C660.17 242.8 658.97 240.68 658.8 239.1 C658.63 237.52 659.35 235.45 660.4 234.4 C661.45 233.35 663.43 232.63 665.1 232.8Z"/>
<path d="M557.5 369 C557.5 368.72 557.77 368.17 557.5 367.3 C557.23 366.43 556.33 365.43 555.9 363.8 C555.47 362.17 554.72 359.78 554.9 357.5 C555.08 355.22 555.95 352.38 557 350.1 C558.05 347.82 559.45 345.73 561.2 343.8 C562.95 341.87 565.38 339.92 567.5 338.5 C569.62 337.08 572.27 336 573.9 335.3 C575.53 334.6 576.03 334.73 577.3 334.3 C578.57 333.87 580.62 332.18 581.5 332.7 C582.38 333.22 582.42 335.03 582.6 337.4 C582.78 339.77 582.78 343.9 582.6 346.9 C582.42 349.9 582.03 353.1 581.5 355.4 C580.97 357.7 580.28 358.95 579.4 360.7 C578.52 362.45 576.9 364.52 576.2 365.9 C575.5 367.28 575.37 368.48 575.2 369" stroke-dasharray="4 2.5"/>
<path d="M597.9 369 C597.9 368.72 597.97 369.22 597.9 367.3 C597.83 365.38 597.5 360.9 597.5 357.5 C597.5 354.1 597.58 349.88 597.9 346.9 C598.22 343.92 598.78 341.7 599.4 339.6 C600.02 337.5 600.98 335.53 601.6 334.3 C602.22 333.07 602.85 332.55 603.1 332.2"/>
<path d="M608.9 342.7 C609.08 343.93 610 347.63 610 350.1 C610 352.57 609.33 354.63 608.9 357.5 C608.47 360.37 607.67 365.38 607.4 367.3 C607.13 369.22 607.32 368.72 607.3 369"/>
<path d="M703 369 C703.05 368.72 702.9 368.25 703.3 367.3 C703.7 366.35 704.52 364.32 705.4 363.3 C706.28 362.28 708.07 361.55 708.6 361.2"/>
<path d="M717.1 359.6 C717.53 360.22 719.03 362.02 719.7 363.3 C720.37 364.58 720.83 366.35 721.1 367.3 C721.37 368.25 721.27 368.72 721.3 369"/>
<path d="M749 278.2 C748.67 278.27 747.45 278.4 747 278.6 C746.55 278.8 746.3 279.13 746.3 279.4 C746.3 279.67 746.55 280 747 280.2 C747.45 280.4 748.67 280.53 749 280.6"/>
<path d="M749 342 C748.67 342.05 747.73 341.92 747 342.3 C746.27 342.68 744.6 343.65 744.6 344.3 C744.6 344.95 746.27 345.83 747 346.2 C747.73 346.57 748.67 346.45 749 346.5"/>
<text stroke="none" x="457.55" y="247.78" font-size="9" textLength="10.5" lengthAdjust="spacingAndGlyphs" transform="rotate(-65 462.8 244.9)">10</text>
<text stroke="none" x="470.65" y="238.68" font-size="9" textLength="10.5" lengthAdjust="spacingAndGlyphs" transform="rotate(-57 475.9 235.8)">20</text>
<text stroke="none" x="527.45" y="257.38" font-size="9" textLength="10.5" lengthAdjust="spacingAndGlyphs" transform="rotate(-35 532.7 254.5)">30</text>
<text stroke="none" x="442.17" y="314.68" font-size="9" textLength="5.25" lengthAdjust="spacingAndGlyphs" transform="rotate(80 444.8 311.8)">0</text>
<text stroke="none" x="549.17" y="337.48" font-size="9" textLength="5.25" lengthAdjust="spacingAndGlyphs" transform="rotate(59 551.8 334.6)">0</text>
<text stroke="none" x="632.17" y="299.18" font-size="9" textLength="5.25" lengthAdjust="spacingAndGlyphs" transform="rotate(85 634.8 296.3)">0</text>
<text stroke="none" x="604.37" y="341.18" font-size="9" textLength="5.25" lengthAdjust="spacingAndGlyphs" transform="rotate(-50 607 338.3)">0</text>
<text stroke="none" x="649.35" y="274.18" font-size="9" textLength="10.5" lengthAdjust="spacingAndGlyphs" transform="rotate(-60 654.6 271.3)">10</text>
<text stroke="none" x="710.17" y="361.38" font-size="9" textLength="5.25" lengthAdjust="spacingAndGlyphs" transform="rotate(0 712.8 358.5)">0</text>
</g>
<rect x="432.5" y="223.5" width="315" height="144.1" fill="none" stroke="#000" stroke-width="0.84"/>
<path d="M432.5 367.6V371.28M467.5 367.6V371.28M502.5 367.6V371.28M537.5 367.6V371.28M572.5 367.6V371.28M607.5 367.6V371.28M642.5 367.6V371.28M677.5 367.6V371.28M712.5 367.6V371.28M747.5 367.6V371.28M432.5 223.5H428.82M432.5 247.52H428.82M432.5 271.53H428.82M432.5 295.55H428.82M432.5 319.57H428.82M432.5 343.58H428.82M432.5 367.6H428.82" stroke="#000" stroke-width="0.84" fill="none"/>
<clipPath id="cpe"><rect x="53" y="425.9" width="315" height="144.1"/></clipPath>
<g clip-path="url(#cpe)" fill="none" stroke="#000" stroke-width="1.3" stroke-linejoin="round" stroke-linecap="butt">
<path d="M100.9 433.5 C99.97 434.03 97.15 435.32 95.3 436.7 C93.45 438.08 91.9 440.35 89.8 441.8 C87.7 443.25 84.95 444.28 82.7 445.4 C80.45 446.52 78.42 447.52 76.3 448.5 C74.18 449.48 71.88 450.43 70 451.3 C68.12 452.17 66.35 453.03 65 453.7 C63.65 454.37 63.17 454.85 61.9 455.3 C60.63 455.75 58.22 455.78 57.4 456.4 C56.58 457.02 57.02 458.08 57 459 C56.98 459.92 56.62 461.13 57.3 461.9 C57.98 462.67 60.03 462.85 61.1 463.6 C62.17 464.35 62.82 465.33 63.7 466.4 C64.58 467.47 64.82 468.07 66.4 470 C67.98 471.93 71.35 476 73.2 478 C75.05 480 76.27 481.12 77.5 482 C78.73 482.88 79.03 482.12 80.6 483.3 C82.17 484.48 85.13 486.82 86.9 489.1 C88.67 491.38 89.78 494.28 91.2 497 C92.62 499.72 94.18 502.58 95.4 505.4 C96.62 508.22 97.45 511.08 98.5 513.9 C99.55 516.72 100.73 519.43 101.7 522.3 C102.67 525.17 103.35 528.48 104.3 531.1 C105.25 533.72 107.32 535.72 107.4 538 C107.48 540.28 105.67 542.25 104.8 544.8 C103.93 547.35 102.12 551.62 102.2 553.3 C102.28 554.98 104.07 554.55 105.3 554.9 C106.53 555.25 108.02 555.4 109.6 555.4 C111.18 555.4 113.32 555.17 114.8 554.9 C116.28 554.63 117.7 555.13 118.5 553.8 C119.3 552.47 119.25 549.53 119.6 546.9 C119.95 544.27 119.63 539.83 120.6 538 C121.57 536.17 123.55 536.87 125.4 535.9 C127.25 534.93 129.77 533.85 131.7 532.2 C133.63 530.55 135.45 528.2 137 526 C138.55 523.8 139.83 521.17 141 519 C142.17 516.83 142.97 515.08 144 513 C145.03 510.92 146.23 508.98 147.2 506.5 C148.17 504.02 149.02 500.73 149.8 498.1 C150.58 495.47 150.93 493 151.9 490.7 C152.87 488.4 154.28 486.42 155.6 484.3 C156.92 482.18 158.57 480.27 159.8 478 C161.03 475.73 161.42 473.33 163 470.7 C164.58 468.07 167.18 465.02 169.3 462.2 C171.42 459.38 173.58 456.62 175.7 453.8 C177.82 450.98 180.42 447.42 182 445.3 C183.58 443.18 184.5 443.03 185.2 441.1 C185.9 439.17 186.03 434.93 186.2 433.7"/>
<path d="M119.9 433.5 C119.1 433.77 116.82 434.43 115.1 435.1 C113.38 435.77 111.83 436.32 109.6 437.5 C107.37 438.68 104.33 440.48 101.7 442.2 C99.07 443.92 96.05 446.08 93.8 447.8 C91.55 449.52 89.92 450.87 88.2 452.5 C86.48 454.13 83.9 456.02 83.5 457.6 C83.1 459.18 84.88 460.47 85.8 462 C86.72 463.53 88.07 465.13 89 466.8 C89.93 468.47 90.33 470.13 91.4 472 C92.47 473.87 93.85 476.12 95.4 478 C96.95 479.88 98.68 481.27 100.7 483.3 C102.72 485.33 106.37 489.05 107.5 490.2"/>
<path d="M120.5 499.6 C121.42 499.52 124.37 499.72 126 499.1 C127.63 498.48 128.7 497.48 130.3 495.9 C131.9 494.32 134.02 491.7 135.6 489.6 C137.18 487.5 138.67 485.23 139.8 483.3 C140.93 481.37 141.62 479.58 142.4 478 C143.18 476.42 143.35 475.55 144.5 473.8 C145.65 472.05 147.62 469.6 149.3 467.5 C150.98 465.4 152.67 463.48 154.6 461.2 C156.53 458.92 159.07 456.1 160.9 453.8 C162.73 451.5 164.47 449.43 165.6 447.4 C166.73 445.37 167.95 443.35 167.7 441.6 C167.45 439.85 165.32 438.3 164.1 436.9 C162.88 435.5 161.02 433.82 160.4 433.2"/>
<path d="M108 442.6 C107.22 443.2 104.75 444.82 103.3 446.2 C101.85 447.58 100.5 449.05 99.3 450.9 C98.1 452.75 96.1 455.32 96.1 457.3 C96.1 459.28 98.23 461.1 99.3 462.8 C100.37 464.5 101.47 465.88 102.5 467.5 C103.53 469.12 104.22 470.75 105.5 472.5 C106.78 474.25 108.55 476.55 110.2 478 C111.85 479.45 113.47 480.42 115.4 481.2 C117.33 481.98 119.87 482.65 121.8 482.7 C123.73 482.75 125.47 482.03 127 481.5 C128.53 480.97 129.83 480.58 131 479.5 C132.17 478.42 132.72 477 134 475 C135.28 473 137.03 469.98 138.7 467.5 C140.37 465.02 142.23 462.38 144 460.1 C145.77 457.82 147.53 455.73 149.3 453.8 C151.07 451.87 153.37 450.43 154.6 448.5 C155.83 446.57 157.07 443.78 156.7 442.2 C156.33 440.62 154.17 439.88 152.4 439 C150.63 438.12 148.9 437.47 146.1 436.9 C143.3 436.33 139.05 435.7 135.6 435.6 C132.15 435.5 128.02 435.92 125.4 436.3 C122.78 436.68 120.82 437.63 119.9 437.9"/>
<path d="M106.4 452.1 C106.13 452.97 104.67 455.65 104.8 457.3 C104.93 458.95 106.13 460.55 107.2 462 C108.27 463.45 109.75 464.82 111.2 466 C112.65 467.18 114.18 468.32 115.9 469.1 C117.62 469.88 119.98 470.43 121.5 470.7 C123.02 470.97 123.37 471.42 125 470.7 C126.63 469.98 129.37 468.17 131.3 466.4 C133.23 464.63 135.02 462.2 136.6 460.1 C138.18 458 139.57 455.73 140.8 453.8 C142.03 451.87 143.47 450.43 144 448.5 C144.53 446.57 144.53 443.52 144 442.2 C143.47 440.88 142.57 441.05 140.8 440.6 C139.03 440.15 135.7 439.63 133.4 439.5 C131.1 439.37 128.6 439.62 127 439.8 C125.4 439.98 124.33 440.47 123.8 440.6"/>
<path d="M114.3 447.8 C115.03 447.08 116.3 446.33 117.5 445.8 C118.7 445.27 120.18 444.82 121.5 444.6 C122.82 444.38 123.77 444.38 125.4 444.5 C127.03 444.62 129.52 444.45 131.3 445.3 C133.08 446.15 135.75 447.83 136.1 449.6 C136.45 451.37 134.55 454.15 133.4 455.9 C132.25 457.65 130.68 459.02 129.2 460.1 C127.72 461.18 126.18 462.08 124.5 462.4 C122.82 462.72 120.67 462.47 119.1 462 C117.53 461.53 116.15 460.65 115.1 459.6 C114.05 458.55 113.13 457.28 112.8 455.7 C112.47 454.12 112.85 451.42 113.1 450.1 C113.35 448.78 113.57 448.52 114.3 447.8Z"/>
<path d="M224.5 433.7 C224.68 434.93 224.9 438.63 225.6 441.1 C226.3 443.57 227.48 445.87 228.7 448.5 C229.92 451.13 231.48 454.27 232.9 456.9 C234.32 459.53 235.62 461.83 237.2 464.3 C238.78 466.77 241 469.42 242.4 471.7 C243.8 473.98 244.37 475.55 245.6 478 C246.83 480.45 248.38 483.58 249.8 486.4 C251.22 489.22 252.68 492.25 254.1 494.9 C255.52 497.55 256.73 499.83 258.3 502.3 C259.87 504.77 261.57 507.23 263.5 509.7 C265.43 512.17 267.6 515.17 269.9 517.1 C272.2 519.03 275.37 519.9 277.3 521.3 C279.23 522.7 280.25 524.22 281.5 525.5 C282.75 526.78 283.57 527.53 284.8 529 C286.03 530.47 287.52 532.82 288.9 534.3 C290.28 535.78 292.12 536.02 293.1 537.9 C294.08 539.78 294.12 543.03 294.8 545.6 C295.48 548.17 296.1 551.92 297.2 553.3 C298.3 554.68 300.02 553.9 301.4 553.9 C302.78 553.9 303.92 554.08 305.5 553.3 C307.08 552.52 309.32 551.17 310.9 549.2 C312.48 547.23 314.02 543.68 315 541.5 C315.98 539.32 316 537.88 316.8 536.1 C317.6 534.32 318.62 532.18 319.8 530.8 C320.98 529.42 322.42 528.85 323.9 527.8 C325.38 526.75 327.3 525.05 328.7 524.5 C330.1 523.95 330.92 524.05 332.3 524.5 C333.68 524.95 335.42 526.28 337 527.2 C338.58 528.12 340.22 529.53 341.8 530 C343.38 530.47 345.12 529.77 346.5 530 C347.88 530.23 348.72 530.18 350.1 531.4 C351.48 532.62 353.32 534.53 354.8 537.3 C356.28 540.07 357.62 546.12 359 548 C360.38 549.88 362.32 550.97 363.1 548.6 C363.88 546.23 363.45 539.05 363.7 533.8 C363.95 528.55 364.4 521.12 364.6 517.1 C364.8 513.08 364.9 513.38 364.9 509.7 C364.9 506.02 364.65 499.95 364.6 495 C364.55 490.05 364.53 484.5 364.6 480 C364.67 475.5 364.87 471.72 365 468 C365.13 464.28 365.28 460.52 365.4 457.7 C365.52 454.88 365.7 453.3 365.7 451.1 C365.7 448.9 365.62 446.7 365.4 444.5 C365.18 442.3 364.73 439.6 364.4 437.9 C364.07 436.2 363.57 434.9 363.4 434.3"/>
<path d="M292.1 435.3 C293.52 435.38 297.43 435.45 300.6 435.8 C303.77 436.15 307.58 436.68 311.1 437.4 C314.62 438.12 318.18 439.22 321.7 440.1 C325.22 440.98 329.15 442.13 332.2 442.7 C335.25 443.27 337.6 443.08 340 443.5 C342.4 443.92 344.4 444.6 346.6 445.2 C348.8 445.8 351.12 446.62 353.2 447.1 C355.28 447.58 357.45 448.03 359.1 448.1 C360.75 448.17 362.32 447.12 363.1 447.5 C363.88 447.88 363.63 449.03 363.8 450.4 C363.97 451.77 364.05 452.77 364.1 455.7 C364.15 458.63 364.12 464.28 364.1 468 C364.08 471.72 364.22 474.83 364 478 C363.78 481.17 364.23 485.68 362.8 487 C361.37 488.32 357.68 486 355.4 485.9 C353.12 485.8 351.2 486.05 349.1 486.4 C347 486.75 345.08 487.73 342.8 488 C340.52 488.27 337.87 487.9 335.4 488 C332.93 488.1 330.28 488.25 328 488.6 C325.72 488.95 323.98 489.23 321.7 490.1 C319.42 490.97 316.77 492.73 314.3 493.8 C311.83 494.87 309.55 495.78 306.9 496.5 C304.25 497.22 301.05 497.93 298.4 498.1 C295.75 498.27 293.28 497.95 291 497.5 C288.72 497.05 286.82 496.37 284.7 495.4 C282.58 494.43 280.42 492.93 278.3 491.7 C276.18 490.47 274.1 489.4 272 488 C269.9 486.6 267.47 484.97 265.7 483.3 C263.93 481.63 262.82 480.1 261.4 478 C259.98 475.9 258.78 473.15 257.2 470.7 C255.62 468.25 253.48 465.77 251.9 463.3 C250.32 460.83 248.92 458.37 247.7 455.9 C246.48 453.43 245.12 450.88 244.6 448.5 C244.08 446.12 243.73 443.53 244.6 441.6 C245.47 439.67 247.97 438.3 249.8 436.9 C251.63 435.5 254.63 433.82 255.6 433.2"/>
<path d="M263.5 435.3 C261.38 435.83 258.6 437.85 257.2 439 C255.8 440.15 255.53 440.43 255.1 442.2 C254.67 443.97 254.25 447.32 254.6 449.6 C254.95 451.88 256.07 453.8 257.2 455.9 C258.33 458 259.82 460.1 261.4 462.2 C262.98 464.3 264.58 466.57 266.7 468.5 C268.82 470.43 271.63 472.22 274.1 473.8 C276.57 475.38 279.38 476.87 281.5 478 C283.62 479.13 285.38 479.98 286.8 480.6 C288.22 481.22 288.07 481.43 290 481.7 C291.93 481.97 295.58 482.38 298.4 482.2 C301.22 482.02 304.25 481.3 306.9 480.6 C309.55 479.9 312.72 478.6 314.3 478 C315.88 477.4 314.47 478.22 316.4 477 C318.33 475.78 322.92 472.47 325.9 470.7 C328.88 468.93 331.67 467.82 334.3 466.4 C336.93 464.98 339.85 463.68 341.7 462.2 C343.55 460.72 345.93 459 345.4 457.5 C344.87 456 340.7 454.43 338.5 453.2 C336.3 451.97 335 451.07 332.2 450.1 C329.4 449.13 325.22 448.28 321.7 447.4 C318.18 446.52 314.62 445.67 311.1 444.8 C307.58 443.93 304.12 442.9 300.6 442.2 C297.08 441.5 292.3 441.13 290 440.6 C287.7 440.07 288.75 439.62 286.8 439 C284.85 438.38 281.12 437.43 278.3 436.9 C275.48 436.37 272.37 436.07 269.9 435.8 C267.43 435.53 265.62 434.77 263.5 435.3Z"/>
<path d="M263 451.1 C263.62 452.25 265.2 456.15 266.7 458 C268.2 459.85 269.88 460.97 272 462.2 C274.12 463.43 276.93 464.43 279.4 465.4 C281.87 466.37 284.5 467.38 286.8 468 C289.1 468.62 290.9 469.02 293.2 469.1 C295.5 469.18 297.97 469.12 300.6 468.5 C303.23 467.88 306.55 466.62 309 465.4 C311.45 464.18 313.72 462.52 315.3 461.2 C316.88 459.88 319.55 459.43 318.5 457.5 C317.45 455.57 312.35 451.45 309 449.6 C305.65 447.75 301.57 447.12 298.4 446.4 C295.23 445.68 292.47 445.75 290 445.3 C287.53 444.85 285.72 444.32 283.6 443.7 C281.48 443.08 278.35 441.95 277.3 441.6"/>
<text stroke="none" x="106.42" y="447.08" font-size="9" textLength="15.75" lengthAdjust="spacingAndGlyphs" transform="rotate(35 114.3 444.2)">160</text>
<text stroke="none" x="108.35" y="498.38" font-size="9" textLength="10.5" lengthAdjust="spacingAndGlyphs" transform="rotate(-35 113.6 495.5)">80</text>
<text stroke="none" x="260.62" y="446.38" font-size="9" textLength="15.75" lengthAdjust="spacingAndGlyphs" transform="rotate(30 268.5 443.5)">160</text>
<text stroke="none" x="278.85" y="436.48" font-size="9" textLength="10.5" lengthAdjust="spacingAndGlyphs" transform="rotate(-8 284.1 433.6)">80</text>
</g>
<rect x="53" y="425.9" width="315" height="144.1" fill="none" stroke="#000" stroke-width="0.84"/>
<path d="M53 570V573.68M88 570V573.68M123 570V573.68M158 570V573.68M193 570V573.68M228 570V573.68M263 570V573.68M298 570V573.68M333 570V573.68M368 570V573.68M53 425.9H49.32M53 449.92H49.32M53 473.93H49.32M53 497.95H49.32M53 521.97H49.32M53 545.98H49.32M53 570H49.32" stroke="#000" stroke-width="0.84" fill="none"/>
<clipPath id="cpf"><rect x="432.5" y="425.9" width="315" height="144.1"/></clipPath>
<g clip-path="url(#cpf)" fill="none" stroke="#000" stroke-width="1.3" stroke-linejoin="round" stroke-linecap="butt">
<path d="M449.6 433.5 C448.63 433.8 445.9 434.65 443.8 435.3 C441.7 435.95 438.37 436.08 437 437.4 C435.63 438.72 435.95 440.82 435.6 443.2 C435.25 445.58 435.02 448.53 434.9 451.7 C434.78 454.87 434.82 458.68 434.9 462.2 C434.98 465.72 435.28 470.17 435.4 472.8 C435.52 475.43 435.52 475.73 435.6 478 C435.68 480.27 435.77 483.58 435.9 486.4 C436.03 489.22 435.6 493.13 436.4 494.9 C437.2 496.67 438.58 495.95 440.7 497 C442.82 498.05 446.65 499.43 449.1 501.2 C451.55 502.97 453.28 505.13 455.4 507.6 C457.52 510.07 460.23 513.77 461.8 516 C463.37 518.23 464 519.15 464.8 521 C465.6 522.85 465.9 524.5 466.6 527.1 C467.3 529.7 468.57 533.63 469 536.6 C469.43 539.57 469.17 542.03 469.2 544.9 C469.23 547.77 468.63 551.62 469.2 553.8 C469.77 555.98 471.35 556.6 472.6 558 C473.85 559.4 474.53 561.22 476.7 562.2 C478.87 563.18 481.53 563.37 485.6 563.9 C489.67 564.43 497.13 564.9 501.1 565.4 C505.07 565.9 506.23 566.58 509.4 566.9 C512.57 567.22 517.53 567.7 520.1 567.3 C522.67 566.9 523.42 565.65 524.8 564.5 C526.18 563.35 527.3 562.08 528.4 560.4 C529.5 558.72 531 556.78 531.4 554.4 C531.8 552.02 531.15 548.83 530.8 546.1 C530.45 543.37 529.33 540.2 529.3 538 C529.27 535.8 529.85 534.8 530.6 532.9 C531.35 531 532.75 528.72 533.8 526.6 C534.85 524.48 535.5 522.5 536.9 520.2 C538.3 517.9 540.62 515.27 542.2 512.8 C543.78 510.33 544.98 508.03 546.4 505.4 C547.82 502.77 549.28 499.98 550.7 497 C552.12 494.02 553.68 490.17 554.9 487.5 C556.12 484.83 557.03 483.45 558 481 C558.97 478.55 559.47 475.93 560.7 472.8 C561.93 469.67 563.9 465.72 565.4 462.2 C566.9 458.68 568.47 455.03 569.7 451.7 C570.93 448.37 573.07 445.2 572.8 442.2 C572.53 439.2 568.88 435.12 568.1 433.7"/>
<path d="M474.4 433.5 C473.35 434.07 470.2 435.72 468.1 436.9 C466 438.08 464.08 439.28 461.8 440.6 C459.52 441.92 457.05 443.48 454.4 444.8 C451.75 446.12 447.83 447.35 445.9 448.5 C443.97 449.65 443.77 450.2 442.8 451.7 C441.83 453.2 439.93 455.57 440.1 457.5 C440.27 459.43 442.3 461.47 443.8 463.3 C445.3 465.13 447.33 466.92 449.1 468.5 C450.87 470.08 452.82 471.22 454.4 472.8 C455.98 474.38 457.02 476.17 458.6 478 C460.18 479.83 461.97 481.68 463.9 483.8 C465.83 485.92 468.27 488.5 470.2 490.7 C472.13 492.9 473.57 495.07 475.5 497 C477.43 498.93 479.43 501.07 481.8 502.3 C484.17 503.53 488.38 504.05 489.7 504.4"/>
<path d="M506.6 505.4 C507.62 505.23 510.63 505.02 512.7 504.4 C514.77 503.78 516.72 503.12 519 501.7 C521.28 500.28 523.93 497.92 526.4 495.9 C528.87 493.88 531.52 491.27 533.8 489.6 C536.08 487.93 538.35 487.3 540.1 485.9 C541.85 484.5 543.25 482.52 544.3 481.2 C545.35 479.88 545.17 480.28 546.4 478 C547.63 475.72 550.12 470.83 551.7 467.5 C553.28 464.17 554.93 460.98 555.9 458 C556.87 455.02 557.23 452.23 557.5 449.6 C557.77 446.97 558.28 444.32 557.5 442.2 C556.72 440.08 554.47 438.4 552.8 436.9 C551.13 435.4 548.38 433.82 547.5 433.2"/>
<path d="M508 437.4 C503.92 437.75 500.43 437.55 496.6 437.9 C492.77 438.25 488.17 438.78 485 439.5 C481.83 440.22 480.07 441.13 477.6 442.2 C475.13 443.27 472.22 444.77 470.2 445.9 C468.18 447.03 466.55 447.68 465.5 449 C464.45 450.32 464.25 452.3 463.9 453.8 C463.55 455.3 463.05 456.42 463.4 458 C463.75 459.58 464.87 461.37 466 463.3 C467.13 465.23 468.62 467.5 470.2 469.6 C471.78 471.7 474.27 474.5 475.5 475.9 C476.73 477.3 476.37 477.12 477.6 478 C478.83 478.88 480.62 480.15 482.9 481.2 C485.18 482.25 488.48 483.6 491.3 484.3 C494.12 485 496.95 485.18 499.8 485.4 C502.65 485.62 505.73 485.78 508.4 485.6 C511.07 485.42 513.5 485.03 515.8 484.3 C518.1 483.57 519.9 482.6 522.2 481.2 C524.5 479.8 526.62 477.65 529.6 475.9 C532.58 474.15 537.47 472.63 540.1 470.7 C542.73 468.77 544 466.6 545.4 464.3 C546.8 462 547.72 459.35 548.5 456.9 C549.28 454.45 550 452.05 550.1 449.6 C550.2 447.15 549.88 444.05 549.1 442.2 C548.32 440.35 546.9 439.6 545.4 438.5 C543.9 437.4 542.03 436.25 540.1 435.6 C538.17 434.95 536.97 434.57 533.8 434.6 C530.63 434.63 525.4 435.33 521.1 435.8 C516.8 436.27 512.08 437.05 508 437.4Z"/>
<path d="M477.6 454.3 C477.42 454.73 476.32 455.75 476.5 456.9 C476.68 458.05 477.47 459.78 478.7 461.2 C479.93 462.62 481.8 464.18 483.9 465.4 C486 466.62 488.65 467.62 491.3 468.5 C493.95 469.38 497.47 470.25 499.8 470.7 C502.13 471.15 502.98 471.03 505.3 471.2 C507.62 471.37 510.72 472.23 513.7 471.7 C516.68 471.17 520.2 469.05 523.2 468 C526.2 466.95 529.05 466.37 531.7 465.4 C534.35 464.43 537.17 463.97 539.1 462.2 C541.03 460.43 542.43 457.27 543.3 454.8 C544.17 452.33 544.48 449.68 544.3 447.4 C544.12 445.12 543.43 442.53 542.2 441.1 C540.97 439.67 538.65 439.23 536.9 438.8 C535.15 438.37 534.33 438.38 531.7 438.5 C529.07 438.62 524.62 439.07 521.1 439.5 C517.58 439.93 513.8 440.48 510.6 441.1 C507.4 441.72 504.32 442.58 501.9 443.2 C499.48 443.82 497.07 444.53 496.1 444.8"/>
<path d="M500.8 450.1 C503.05 448.42 506.68 448.28 510.6 447.4 C514.52 446.52 520.62 445.77 524.3 444.8 C527.98 443.83 530.6 441.6 532.7 441.6 C534.8 441.6 535.75 443.47 536.9 444.8 C538.05 446.13 539.42 448.1 539.6 449.6 C539.78 451.1 539.15 452.58 538 453.8 C536.85 455.02 535.17 456.02 532.7 456.9 C530.23 457.78 526.53 458.22 523.2 459.1 C519.87 459.98 515.68 462.03 512.7 462.2 C509.72 462.37 507.1 460.62 505.3 460.1 C503.5 459.58 503.27 459.53 501.9 459.1 C500.53 458.67 497.28 459 497.1 457.5 C496.92 456 498.55 451.78 500.8 450.1Z"/>
<path d="M630.6 433.5 C630.17 434.07 628.88 435.55 628 436.9 C627.12 438.25 625.03 440.2 625.3 441.6 C625.57 443 627.83 443.8 629.6 445.3 C631.37 446.8 633.8 448.67 635.9 450.6 C638 452.53 640.45 454.62 642.2 456.9 C643.95 459.18 644.82 461.83 646.4 464.3 C647.98 466.77 650.28 469.5 651.7 471.7 C653.12 473.9 653.67 475.4 654.9 477.5 C656.13 479.6 657.7 482.28 659.1 484.3 C660.5 486.32 661.9 487.3 663.3 489.6 C664.7 491.9 665.92 495.82 667.5 498.1 C669.08 500.38 671.55 502.35 672.8 503.3 C674.05 504.25 673.8 503.35 675 503.8 C676.2 504.25 678.23 505.47 680 506 C681.77 506.53 682.92 507.45 685.6 507 C688.28 506.55 692.58 504.43 696.1 503.3 C699.62 502.17 703.18 500.2 706.7 500.2 C710.22 500.2 713.87 502.43 717.2 503.3 C720.53 504.17 723.88 504.33 726.7 505.4 C729.52 506.47 731.47 508.37 734.1 509.7 C736.73 511.03 740.92 514.28 742.5 513.4 C744.08 512.52 743.28 508.3 743.6 504.4 C743.92 500.5 744.27 494.4 744.4 490 C744.53 485.6 744.35 480.87 744.4 478 C744.45 475.13 744.57 475.43 744.7 472.8 C744.83 470.17 745.12 466.07 745.2 462.2 C745.28 458.33 745.38 452.58 745.2 449.6 C745.02 446.62 744.55 445.57 744.1 444.3 C743.65 443.03 744.87 442.35 742.5 442 C740.13 441.65 733.42 442.27 729.9 442.2 C726.38 442.13 723.87 441.95 721.4 441.6 C718.93 441.25 717.55 440.8 715.1 440.1 C712.65 439.4 709.87 438.28 706.7 437.4 C703.53 436.52 699.27 435.5 696.1 434.8 C692.93 434.1 689.1 433.47 687.7 433.2"/>
<path d="M707.7 474.4 C708.93 474.57 712.63 475.05 715.1 475.4 C717.57 475.75 719.52 475.97 722.5 476.5 C725.48 477.03 729.67 477.77 733 478.6 C736.33 479.43 740.73 482.47 742.5 481.5 C744.27 480.53 743.23 476.02 743.6 472.8 C743.97 469.58 744.52 465.37 744.7 462.2 C744.88 459.03 744.97 456 744.7 453.8 C744.43 451.6 744.17 449.85 743.1 449 C742.03 448.15 740.85 448.82 738.3 448.7 C735.75 448.58 731.32 448.6 727.8 448.3 C724.28 448 720.72 447.57 717.2 446.9 C713.68 446.23 710.22 445.27 706.7 444.3 C703.18 443.33 699.62 442.17 696.1 441.1 C692.58 440.03 688.28 438.6 685.6 437.9 C682.92 437.2 682.3 437.33 680 436.9 C677.7 436.47 674.75 435.48 671.8 435.3 C668.85 435.12 665.12 435.27 662.3 435.8 C659.48 436.33 657.1 437.43 654.9 438.5 C652.7 439.57 649.8 440.72 649.1 442.2 C648.4 443.68 649.73 445.3 650.7 447.4 C651.67 449.5 653.32 452.33 654.9 454.8 C656.48 457.27 658.27 459.92 660.2 462.2 C662.13 464.48 664.22 466.73 666.5 468.5 C668.78 470.27 671.65 471.65 673.9 472.8 C676.15 473.95 678.05 474.7 680 475.4 C681.95 476.1 683.62 476.65 685.6 477 C687.58 477.35 690.85 477.42 691.9 477.5"/>
<path d="M673.9 440.1 C671.65 439.85 668.62 439.75 666.5 440.1 C664.38 440.45 662.08 440.62 661.2 442.2 C660.32 443.78 660.5 447.5 661.2 449.6 C661.9 451.7 663.82 453.22 665.4 454.8 C666.98 456.38 668.93 457.87 670.7 459.1 C672.47 460.33 674.45 461.5 676 462.2 C677.55 462.9 678.4 462.95 680 463.3 C681.6 463.65 683.27 464.22 685.6 464.3 C687.93 464.38 691.37 464.23 694 463.8 C696.63 463.37 698.42 462.4 701.4 461.7 C704.38 461 708.57 460.22 711.9 459.6 C715.23 458.98 718.58 458.3 721.4 458 C724.22 457.7 728.8 457.98 728.8 457.8 C728.8 457.62 723.68 457.4 721.4 456.9 C719.12 456.4 716.85 455.5 715.1 454.8 C713.35 454.1 712.3 453.48 710.9 452.7 C709.5 451.92 709.17 451.15 706.7 450.1 C704.23 449.05 699.62 447.55 696.1 446.4 C692.58 445.25 688.28 444 685.6 443.2 C682.92 442.4 681.95 442.12 680 441.6 C678.05 441.08 676.15 440.35 673.9 440.1Z"/>
<path d="M676.3 449.8 L683 449.8" stroke-width="2.2"/>
<path d="M740.4 457.5 L744.5 457.5" stroke-width="2.0"/>
<text stroke="none" x="477.62" y="449.18" font-size="9" textLength="15.75" lengthAdjust="spacingAndGlyphs" transform="rotate(25 485.5 446.3)">160</text>
<text stroke="none" x="492.95" y="507.88" font-size="9" textLength="10.5" lengthAdjust="spacingAndGlyphs" transform="rotate(0 498.2 505)">80</text>
<text stroke="none" x="694.55" y="477.88" font-size="9" textLength="10.5" lengthAdjust="spacingAndGlyphs" transform="rotate(11 699.8 475)">80</text>
</g>
<rect x="432.5" y="425.9" width="315" height="144.1" fill="none" stroke="#000" stroke-width="0.84"/>
<path d="M432.5 570V573.68M467.5 570V573.68M502.5 570V573.68M537.5 570V573.68M572.5 570V573.68M607.5 570V573.68M642.5 570V573.68M677.5 570V573.68M712.5 570V573.68M747.5 570V573.68M432.5 425.9H428.82M432.5 449.92H428.82M432.5 473.93H428.82M432.5 497.95H428.82M432.5 521.97H428.82M432.5 545.98H428.82M432.5 570H428.82" stroke="#000" stroke-width="0.84" fill="none"/>
<text x="41.89" y="180.87" font-size="10.84" textLength="22.22" lengthAdjust="spacingAndGlyphs">−90</text>
<text x="76.89" y="180.87" font-size="10.84" textLength="22.22" lengthAdjust="spacingAndGlyphs">−70</text>
<text x="111.89" y="180.87" font-size="10.84" textLength="22.22" lengthAdjust="spacingAndGlyphs">−50</text>
<text x="146.89" y="180.87" font-size="10.84" textLength="22.22" lengthAdjust="spacingAndGlyphs">−30</text>
<text x="181.89" y="180.87" font-size="10.84" textLength="22.22" lengthAdjust="spacingAndGlyphs">−10</text>
<text x="221.3" y="180.87" font-size="10.84" textLength="13.4" lengthAdjust="spacingAndGlyphs">10</text>
<text x="256.3" y="180.87" font-size="10.84" textLength="13.4" lengthAdjust="spacingAndGlyphs">30</text>
<text x="291.3" y="180.87" font-size="10.84" textLength="13.4" lengthAdjust="spacingAndGlyphs">50</text>
<text x="326.3" y="180.87" font-size="10.84" textLength="13.4" lengthAdjust="spacingAndGlyphs">70</text>
<text x="361.3" y="180.87" font-size="10.84" textLength="13.4" lengthAdjust="spacingAndGlyphs">90</text>
<text x="184.5" y="196.87" font-size="13.01" textLength="52" lengthAdjust="spacingAndGlyphs">Latitude</text>
<text x="25.54" y="25.2" font-size="10.84" textLength="20.09" lengthAdjust="spacingAndGlyphs">100</text>
<text x="25.54" y="49.25" font-size="10.84" textLength="20.09" lengthAdjust="spacingAndGlyphs">250</text>
<text x="25.54" y="73.3" font-size="10.84" textLength="20.09" lengthAdjust="spacingAndGlyphs">400</text>
<text x="25.54" y="97.35" font-size="10.84" textLength="20.09" lengthAdjust="spacingAndGlyphs">550</text>
<text x="25.54" y="121.4" font-size="10.84" textLength="20.09" lengthAdjust="spacingAndGlyphs">700</text>
<text x="25.54" y="145.45" font-size="10.84" textLength="20.09" lengthAdjust="spacingAndGlyphs">850</text>
<text x="18.84" y="169.5" font-size="10.84" textLength="26.79" lengthAdjust="spacingAndGlyphs">1000</text>
<text x="-14.97" y="92.75" font-size="13.01" textLength="53.94" lengthAdjust="spacingAndGlyphs" transform="translate(0.7 1) rotate(-90 12 92.75)">Pressure</text>
<text x="114.79" y="14.88" font-size="13.01" textLength="191.43" lengthAdjust="spacingAndGlyphs">Zonal Mean Temperature - DJF</text>
<text x="0" y="0" font-size="17.35" transform="translate(53.5 15.08) scale(0.85 1)">a</text>
<text x="421.39" y="180.87" font-size="10.84" textLength="22.22" lengthAdjust="spacingAndGlyphs">−90</text>
<text x="456.39" y="180.87" font-size="10.84" textLength="22.22" lengthAdjust="spacingAndGlyphs">−70</text>
<text x="491.39" y="180.87" font-size="10.84" textLength="22.22" lengthAdjust="spacingAndGlyphs">−50</text>
<text x="526.39" y="180.87" font-size="10.84" textLength="22.22" lengthAdjust="spacingAndGlyphs">−30</text>
<text x="561.39" y="180.87" font-size="10.84" textLength="22.22" lengthAdjust="spacingAndGlyphs">−10</text>
<text x="600.8" y="180.87" font-size="10.84" textLength="13.4" lengthAdjust="spacingAndGlyphs">10</text>
<text x="635.8" y="180.87" font-size="10.84" textLength="13.4" lengthAdjust="spacingAndGlyphs">30</text>
<text x="670.8" y="180.87" font-size="10.84" textLength="13.4" lengthAdjust="spacingAndGlyphs">50</text>
<text x="705.8" y="180.87" font-size="10.84" textLength="13.4" lengthAdjust="spacingAndGlyphs">70</text>
<text x="740.8" y="180.87" font-size="10.84" textLength="13.4" lengthAdjust="spacingAndGlyphs">90</text>
<text x="564" y="196.87" font-size="13.01" textLength="52" lengthAdjust="spacingAndGlyphs">Latitude</text>
<text x="405.04" y="25.2" font-size="10.84" textLength="20.09" lengthAdjust="spacingAndGlyphs">100</text>
<text x="405.04" y="49.25" font-size="10.84" textLength="20.09" lengthAdjust="spacingAndGlyphs">250</text>
<text x="405.04" y="73.3" font-size="10.84" textLength="20.09" lengthAdjust="spacingAndGlyphs">400</text>
<text x="405.04" y="97.35" font-size="10.84" textLength="20.09" lengthAdjust="spacingAndGlyphs">550</text>
<text x="405.04" y="121.4" font-size="10.84" textLength="20.09" lengthAdjust="spacingAndGlyphs">700</text>
<text x="405.04" y="145.45" font-size="10.84" textLength="20.09" lengthAdjust="spacingAndGlyphs">850</text>
<text x="398.34" y="169.5" font-size="10.84" textLength="26.79" lengthAdjust="spacingAndGlyphs">1000</text>
<text x="364.53" y="92.75" font-size="13.01" textLength="53.94" lengthAdjust="spacingAndGlyphs" transform="translate(0.7 1) rotate(-90 391.5 92.75)">Pressure</text>
<text x="496.71" y="14.88" font-size="13.01" textLength="186.58" lengthAdjust="spacingAndGlyphs">Zonal Mean Temperature - JJA</text>
<text x="0" y="0" font-size="17.35" transform="translate(433 15.08) scale(0.85 1)">b</text>
<text x="41.89" y="383.57" font-size="10.84" textLength="22.22" lengthAdjust="spacingAndGlyphs">−90</text>
<text x="76.89" y="383.57" font-size="10.84" textLength="22.22" lengthAdjust="spacingAndGlyphs">−70</text>
<text x="111.89" y="383.57" font-size="10.84" textLength="22.22" lengthAdjust="spacingAndGlyphs">−50</text>
<text x="146.89" y="383.57" font-size="10.84" textLength="22.22" lengthAdjust="spacingAndGlyphs">−30</text>
<text x="181.89" y="383.57" font-size="10.84" textLength="22.22" lengthAdjust="spacingAndGlyphs">−10</text>
<text x="221.3" y="383.57" font-size="10.84" textLength="13.4" lengthAdjust="spacingAndGlyphs">10</text>
<text x="256.3" y="383.57" font-size="10.84" textLength="13.4" lengthAdjust="spacingAndGlyphs">30</text>
<text x="291.3" y="383.57" font-size="10.84" textLength="13.4" lengthAdjust="spacingAndGlyphs">50</text>
<text x="326.3" y="383.57" font-size="10.84" textLength="13.4" lengthAdjust="spacingAndGlyphs">70</text>
<text x="361.3" y="383.57" font-size="10.84" textLength="13.4" lengthAdjust="spacingAndGlyphs">90</text>
<text x="184.5" y="399.57" font-size="13.01" textLength="52" lengthAdjust="spacingAndGlyphs">Latitude</text>
<text x="25.54" y="228.1" font-size="10.84" textLength="20.09" lengthAdjust="spacingAndGlyphs">100</text>
<text x="25.54" y="252.12" font-size="10.84" textLength="20.09" lengthAdjust="spacingAndGlyphs">250</text>
<text x="25.54" y="276.13" font-size="10.84" textLength="20.09" lengthAdjust="spacingAndGlyphs">400</text>
<text x="25.54" y="300.15" font-size="10.84" textLength="20.09" lengthAdjust="spacingAndGlyphs">550</text>
<text x="25.54" y="324.17" font-size="10.84" textLength="20.09" lengthAdjust="spacingAndGlyphs">700</text>
<text x="25.54" y="348.18" font-size="10.84" textLength="20.09" lengthAdjust="spacingAndGlyphs">850</text>
<text x="18.84" y="372.2" font-size="10.84" textLength="26.79" lengthAdjust="spacingAndGlyphs">1000</text>
<text x="-14.97" y="295.55" font-size="13.01" textLength="53.94" lengthAdjust="spacingAndGlyphs" transform="translate(0.7 1) rotate(-90 12 295.55)">Pressure</text>
<text x="119.1" y="217.78" font-size="13.01" textLength="182.81" lengthAdjust="spacingAndGlyphs">Zonal Mean Zonal Wind - DJF</text>
<text x="0" y="0" font-size="17.35" transform="translate(53.5 217.98) scale(0.85 1)">c</text>
<text x="421.39" y="383.57" font-size="10.84" textLength="22.22" lengthAdjust="spacingAndGlyphs">−90</text>
<text x="456.39" y="383.57" font-size="10.84" textLength="22.22" lengthAdjust="spacingAndGlyphs">−70</text>
<text x="491.39" y="383.57" font-size="10.84" textLength="22.22" lengthAdjust="spacingAndGlyphs">−50</text>
<text x="526.39" y="383.57" font-size="10.84" textLength="22.22" lengthAdjust="spacingAndGlyphs">−30</text>
<text x="561.39" y="383.57" font-size="10.84" textLength="22.22" lengthAdjust="spacingAndGlyphs">−10</text>
<text x="600.8" y="383.57" font-size="10.84" textLength="13.4" lengthAdjust="spacingAndGlyphs">10</text>
<text x="635.8" y="383.57" font-size="10.84" textLength="13.4" lengthAdjust="spacingAndGlyphs">30</text>
<text x="670.8" y="383.57" font-size="10.84" textLength="13.4" lengthAdjust="spacingAndGlyphs">50</text>
<text x="705.8" y="383.57" font-size="10.84" textLength="13.4" lengthAdjust="spacingAndGlyphs">70</text>
<text x="740.8" y="383.57" font-size="10.84" textLength="13.4" lengthAdjust="spacingAndGlyphs">90</text>
<text x="564" y="399.57" font-size="13.01" textLength="52" lengthAdjust="spacingAndGlyphs">Latitude</text>
<text x="405.04" y="228.1" font-size="10.84" textLength="20.09" lengthAdjust="spacingAndGlyphs">100</text>
<text x="405.04" y="252.12" font-size="10.84" textLength="20.09" lengthAdjust="spacingAndGlyphs">250</text>
<text x="405.04" y="276.13" font-size="10.84" textLength="20.09" lengthAdjust="spacingAndGlyphs">400</text>
<text x="405.04" y="300.15" font-size="10.84" textLength="20.09" lengthAdjust="spacingAndGlyphs">550</text>
<text x="405.04" y="324.17" font-size="10.84" textLength="20.09" lengthAdjust="spacingAndGlyphs">700</text>
<text x="405.04" y="348.18" font-size="10.84" textLength="20.09" lengthAdjust="spacingAndGlyphs">850</text>
<text x="398.34" y="372.2" font-size="10.84" textLength="26.79" lengthAdjust="spacingAndGlyphs">1000</text>
<text x="364.53" y="295.55" font-size="13.01" textLength="53.94" lengthAdjust="spacingAndGlyphs" transform="translate(0.7 1) rotate(-90 391.5 295.55)">Pressure</text>
<text x="501.02" y="217.78" font-size="13.01" textLength="177.96" lengthAdjust="spacingAndGlyphs">Zonal Mean Zonal Wind - JJA</text>
<text x="0" y="0" font-size="17.35" transform="translate(433 217.98) scale(0.85 1)">d</text>
<text x="41.89" y="585.97" font-size="10.84" textLength="22.22" lengthAdjust="spacingAndGlyphs">−90</text>
<text x="76.89" y="585.97" font-size="10.84" textLength="22.22" lengthAdjust="spacingAndGlyphs">−70</text>
<text x="111.89" y="585.97" font-size="10.84" textLength="22.22" lengthAdjust="spacingAndGlyphs">−50</text>
<text x="146.89" y="585.97" font-size="10.84" textLength="22.22" lengthAdjust="spacingAndGlyphs">−30</text>
<text x="181.89" y="585.97" font-size="10.84" textLength="22.22" lengthAdjust="spacingAndGlyphs">−10</text>
<text x="221.3" y="585.97" font-size="10.84" textLength="13.4" lengthAdjust="spacingAndGlyphs">10</text>
<text x="256.3" y="585.97" font-size="10.84" textLength="13.4" lengthAdjust="spacingAndGlyphs">30</text>
<text x="291.3" y="585.97" font-size="10.84" textLength="13.4" lengthAdjust="spacingAndGlyphs">50</text>
<text x="326.3" y="585.97" font-size="10.84" textLength="13.4" lengthAdjust="spacingAndGlyphs">70</text>
<text x="361.3" y="585.97" font-size="10.84" textLength="13.4" lengthAdjust="spacingAndGlyphs">90</text>
<text x="184.5" y="601.97" font-size="13.01" textLength="52" lengthAdjust="spacingAndGlyphs">Latitude</text>
<text x="25.54" y="430.5" font-size="10.84" textLength="20.09" lengthAdjust="spacingAndGlyphs">100</text>
<text x="25.54" y="454.52" font-size="10.84" textLength="20.09" lengthAdjust="spacingAndGlyphs">250</text>
<text x="25.54" y="478.53" font-size="10.84" textLength="20.09" lengthAdjust="spacingAndGlyphs">400</text>
<text x="25.54" y="502.55" font-size="10.84" textLength="20.09" lengthAdjust="spacingAndGlyphs">550</text>
<text x="25.54" y="526.57" font-size="10.84" textLength="20.09" lengthAdjust="spacingAndGlyphs">700</text>
<text x="25.54" y="550.58" font-size="10.84" textLength="20.09" lengthAdjust="spacingAndGlyphs">850</text>
<text x="18.84" y="574.6" font-size="10.84" textLength="26.79" lengthAdjust="spacingAndGlyphs">1000</text>
<text x="-14.97" y="497.95" font-size="13.01" textLength="53.94" lengthAdjust="spacingAndGlyphs" transform="translate(0.7 1) rotate(-90 12 497.95)">Pressure</text>
<text x="142.67" y="420.18" font-size="13.01" textLength="135.65" lengthAdjust="spacingAndGlyphs">Zonal Mean EKE - DJF</text>
<text x="0" y="0" font-size="17.35" transform="translate(53.5 420.38) scale(0.85 1)">e</text>
<text x="421.39" y="585.97" font-size="10.84" textLength="22.22" lengthAdjust="spacingAndGlyphs">−90</text>
<text x="456.39" y="585.97" font-size="10.84" textLength="22.22" lengthAdjust="spacingAndGlyphs">−70</text>
<text x="491.39" y="585.97" font-size="10.84" textLength="22.22" lengthAdjust="spacingAndGlyphs">−50</text>
<text x="526.39" y="585.97" font-size="10.84" textLength="22.22" lengthAdjust="spacingAndGlyphs">−30</text>
<text x="561.39" y="585.97" font-size="10.84" textLength="22.22" lengthAdjust="spacingAndGlyphs">−10</text>
<text x="600.8" y="585.97" font-size="10.84" textLength="13.4" lengthAdjust="spacingAndGlyphs">10</text>
<text x="635.8" y="585.97" font-size="10.84" textLength="13.4" lengthAdjust="spacingAndGlyphs">30</text>
<text x="670.8" y="585.97" font-size="10.84" textLength="13.4" lengthAdjust="spacingAndGlyphs">50</text>
<text x="705.8" y="585.97" font-size="10.84" textLength="13.4" lengthAdjust="spacingAndGlyphs">70</text>
<text x="740.8" y="585.97" font-size="10.84" textLength="13.4" lengthAdjust="spacingAndGlyphs">90</text>
<text x="564" y="601.97" font-size="13.01" textLength="52" lengthAdjust="spacingAndGlyphs">Latitude</text>
<text x="405.04" y="430.5" font-size="10.84" textLength="20.09" lengthAdjust="spacingAndGlyphs">100</text>
<text x="405.04" y="454.52" font-size="10.84" textLength="20.09" lengthAdjust="spacingAndGlyphs">250</text>
<text x="405.04" y="478.53" font-size="10.84" textLength="20.09" lengthAdjust="spacingAndGlyphs">400</text>
<text x="405.04" y="502.55" font-size="10.84" textLength="20.09" lengthAdjust="spacingAndGlyphs">550</text>
<text x="405.04" y="526.57" font-size="10.84" textLength="20.09" lengthAdjust="spacingAndGlyphs">700</text>
<text x="405.04" y="550.58" font-size="10.84" textLength="20.09" lengthAdjust="spacingAndGlyphs">850</text>
<text x="398.34" y="574.6" font-size="10.84" textLength="26.79" lengthAdjust="spacingAndGlyphs">1000</text>
<text x="364.53" y="497.95" font-size="13.01" textLength="53.94" lengthAdjust="spacingAndGlyphs" transform="translate(0.7 1) rotate(-90 391.5 497.95)">Pressure</text>
<text x="524.6" y="420.18" font-size="13.01" textLength="130.81" lengthAdjust="spacingAndGlyphs">Zonal Mean EKE - JJA</text>
<text x="0" y="0" font-size="17.35" transform="translate(433 420.38) scale(0.85 1)">f</text>
</svg></body></html>
